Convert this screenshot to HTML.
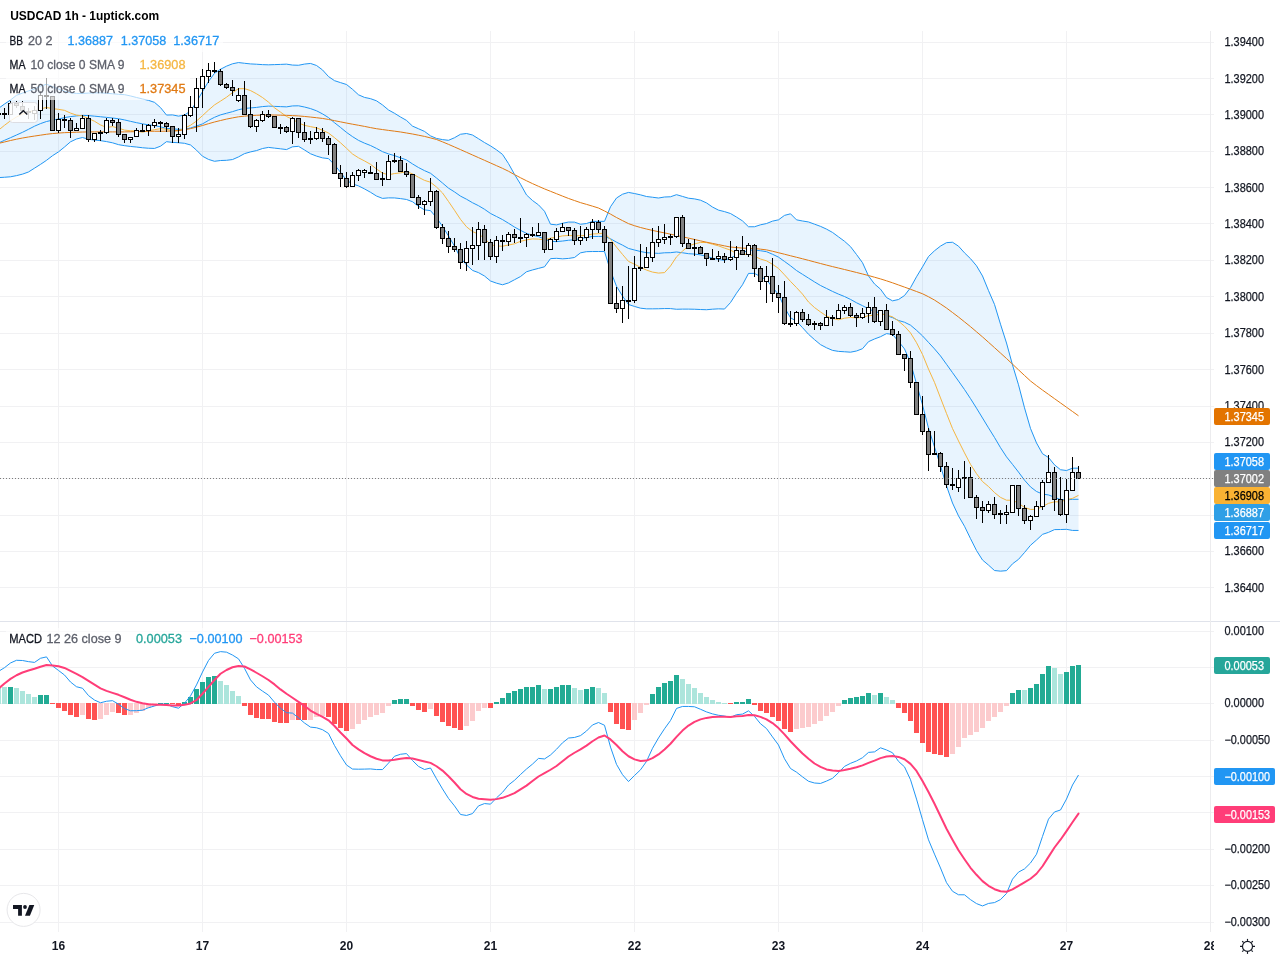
<!DOCTYPE html>
<html><head><meta charset="utf-8"><title>USDCAD 1h</title>
<style>html,body{margin:0;padding:0;background:#fff;width:1280px;height:960px;overflow:hidden}svg{display:block;will-change:transform}text{font-family:"Liberation Sans", sans-serif}</style>
</head><body>
<svg width="1280" height="960" viewBox="0 0 1280 960" font-family='"Liberation Sans", sans-serif'>
<rect width="1280" height="960" fill="#fff"/>
<g shape-rendering="crispEdges" stroke-width="1">
<line x1="58.5" y1="31" x2="58.5" y2="621.0" stroke="#f1f1f3"/>
<line x1="58.5" y1="622.0" x2="58.5" y2="931.5" stroke="#f1f1f3"/>
<line x1="202.5" y1="31" x2="202.5" y2="621.0" stroke="#f1f1f3"/>
<line x1="202.5" y1="622.0" x2="202.5" y2="931.5" stroke="#f1f1f3"/>
<line x1="346.5" y1="31" x2="346.5" y2="621.0" stroke="#f1f1f3"/>
<line x1="346.5" y1="622.0" x2="346.5" y2="931.5" stroke="#f1f1f3"/>
<line x1="490.5" y1="31" x2="490.5" y2="621.0" stroke="#f1f1f3"/>
<line x1="490.5" y1="622.0" x2="490.5" y2="931.5" stroke="#f1f1f3"/>
<line x1="634.5" y1="31" x2="634.5" y2="621.0" stroke="#f1f1f3"/>
<line x1="634.5" y1="622.0" x2="634.5" y2="931.5" stroke="#f1f1f3"/>
<line x1="778.5" y1="31" x2="778.5" y2="621.0" stroke="#f1f1f3"/>
<line x1="778.5" y1="622.0" x2="778.5" y2="931.5" stroke="#f1f1f3"/>
<line x1="922.5" y1="31" x2="922.5" y2="621.0" stroke="#f1f1f3"/>
<line x1="922.5" y1="622.0" x2="922.5" y2="931.5" stroke="#f1f1f3"/>
<line x1="1066.5" y1="31" x2="1066.5" y2="621.0" stroke="#f1f1f3"/>
<line x1="1066.5" y1="622.0" x2="1066.5" y2="931.5" stroke="#f1f1f3"/>
<line x1="1210.5" y1="31" x2="1210.5" y2="621.0" stroke="#f1f1f3"/>
<line x1="1210.5" y1="622.0" x2="1210.5" y2="931.5" stroke="#f1f1f3"/>
<line x1="0" y1="42.5" x2="1214.0" y2="42.5" stroke="#f1f1f3"/>
<line x1="0" y1="78.5" x2="1214.0" y2="78.5" stroke="#f1f1f3"/>
<line x1="0" y1="114.5" x2="1214.0" y2="114.5" stroke="#f1f1f3"/>
<line x1="0" y1="151.5" x2="1214.0" y2="151.5" stroke="#f1f1f3"/>
<line x1="0" y1="187.5" x2="1214.0" y2="187.5" stroke="#f1f1f3"/>
<line x1="0" y1="223.5" x2="1214.0" y2="223.5" stroke="#f1f1f3"/>
<line x1="0" y1="260.5" x2="1214.0" y2="260.5" stroke="#f1f1f3"/>
<line x1="0" y1="296.5" x2="1214.0" y2="296.5" stroke="#f1f1f3"/>
<line x1="0" y1="333.5" x2="1214.0" y2="333.5" stroke="#f1f1f3"/>
<line x1="0" y1="369.5" x2="1214.0" y2="369.5" stroke="#f1f1f3"/>
<line x1="0" y1="406.5" x2="1214.0" y2="406.5" stroke="#f1f1f3"/>
<line x1="0" y1="442.5" x2="1214.0" y2="442.5" stroke="#f1f1f3"/>
<line x1="0" y1="478.5" x2="1214.0" y2="478.5" stroke="#f1f1f3"/>
<line x1="0" y1="515.5" x2="1214.0" y2="515.5" stroke="#f1f1f3"/>
<line x1="0" y1="551.5" x2="1214.0" y2="551.5" stroke="#f1f1f3"/>
<line x1="0" y1="587.5" x2="1214.0" y2="587.5" stroke="#f1f1f3"/>
<line x1="0" y1="631.5" x2="1214.0" y2="631.5" stroke="#f1f1f3"/>
<line x1="0" y1="667.5" x2="1214.0" y2="667.5" stroke="#f1f1f3"/>
<line x1="0" y1="703.5" x2="1214.0" y2="703.5" stroke="#f1f1f3"/>
<line x1="0" y1="740.5" x2="1214.0" y2="740.5" stroke="#f1f1f3"/>
<line x1="0" y1="776.5" x2="1214.0" y2="776.5" stroke="#f1f1f3"/>
<line x1="0" y1="812.5" x2="1214.0" y2="812.5" stroke="#f1f1f3"/>
<line x1="0" y1="849.5" x2="1214.0" y2="849.5" stroke="#f1f1f3"/>
<line x1="0" y1="885.5" x2="1214.0" y2="885.5" stroke="#f1f1f3"/>
<line x1="0" y1="922.5" x2="1214.0" y2="922.5" stroke="#f1f1f3"/>
</g>
<clipPath id="cm"><rect x="0" y="31" width="1210.0" height="590.5"/></clipPath>
<clipPath id="cd"><rect x="0" y="621.5" width="1210.0" height="310.0"/></clipPath>
<g clip-path="url(#cm)">
<path d="M-1.5,108.40 L4.5,104.00 L10.5,100.00 L16.5,95.30 L22.5,93.10 L28.5,90.90 L34.5,89.00 L40.5,86.25 L46.5,84.20 L52.5,86.60 L58.5,89.00 L64.5,91.25 L70.5,92.80 L76.5,93.40 L82.5,93.43 L88.5,93.07 L94.5,92.90 L100.5,92.79 L106.5,93.27 L112.5,93.75 L118.5,94.29 L124.5,94.67 L130.5,95.95 L136.5,97.47 L142.5,98.95 L148.5,100.36 L154.5,102.35 L160.5,107.58 L166.5,115.05 L172.5,114.90 L178.5,116.11 L184.5,115.07 L190.5,111.06 L196.5,101.86 L202.5,91.59 L208.5,81.43 L214.5,73.30 L220.5,69.26 L226.5,66.17 L232.5,63.79 L238.5,62.55 L244.5,63.28 L250.5,63.91 L256.5,64.23 L262.5,64.63 L268.5,64.82 L274.5,64.61 L280.5,64.42 L286.5,64.15 L292.5,65.07 L298.5,65.28 L304.5,64.07 L310.5,63.44 L316.5,65.48 L322.5,69.93 L328.5,76.57 L334.5,80.67 L340.5,82.61 L346.5,84.51 L352.5,89.30 L358.5,94.81 L364.5,97.41 L370.5,98.66 L376.5,100.82 L382.5,104.94 L388.5,109.97 L394.5,113.29 L400.5,117.01 L406.5,120.42 L412.5,126.12 L418.5,128.75 L424.5,131.42 L430.5,135.89 L436.5,138.43 L442.5,139.61 L448.5,140.30 L454.5,137.72 L460.5,134.25 L466.5,133.49 L472.5,135.03 L478.5,138.73 L484.5,142.54 L490.5,145.91 L496.5,149.85 L502.5,154.39 L508.5,163.58 L514.5,174.39 L520.5,184.15 L526.5,194.94 L532.5,200.52 L538.5,204.88 L544.5,211.26 L550.5,224.21 L556.5,224.88 L562.5,223.27 L568.5,222.07 L574.5,222.11 L580.5,224.25 L586.5,223.53 L592.5,221.36 L598.5,221.33 L604.5,221.33 L610.5,206.76 L616.5,198.01 L622.5,194.22 L628.5,192.41 L634.5,193.54 L640.5,194.85 L646.5,196.51 L652.5,197.24 L658.5,198.02 L664.5,197.01 L670.5,196.77 L676.5,194.68 L682.5,196.43 L688.5,198.23 L694.5,198.88 L700.5,200.20 L706.5,202.91 L712.5,207.06 L718.5,210.13 L724.5,211.62 L730.5,213.52 L736.5,217.07 L742.5,220.92 L748.5,226.75 L754.5,226.75 L760.5,224.81 L766.5,223.54 L772.5,221.14 L778.5,219.83 L784.5,215.39 L790.5,213.82 L796.5,219.83 L802.5,220.99 L808.5,221.96 L814.5,224.17 L820.5,226.37 L826.5,229.11 L832.5,232.43 L838.5,236.85 L844.5,241.28 L850.5,246.64 L856.5,254.50 L862.5,262.71 L868.5,275.97 L874.5,283.97 L880.5,289.15 L886.5,297.52 L892.5,300.84 L898.5,299.52 L904.5,295.52 L910.5,287.69 L916.5,276.81 L922.5,266.89 L928.5,256.51 L934.5,250.78 L940.5,246.08 L946.5,242.65 L952.5,242.26 L958.5,246.17 L964.5,252.85 L970.5,258.67 L976.5,265.79 L982.5,275.96 L988.5,290.59 L994.5,304.44 L1000.5,324.21 L1006.5,343.03 L1012.5,364.95 L1018.5,384.80 L1024.5,407.81 L1030.5,428.46 L1036.5,442.96 L1042.5,453.72 L1048.5,457.52 L1054.5,464.83 L1060.5,469.73 L1066.5,470.53 L1072.5,468.18 L1078.5,468.16 L1078.5,530.44 L1072.5,530.43 L1066.5,529.33 L1060.5,529.53 L1054.5,529.60 L1048.5,532.37 L1042.5,534.36 L1036.5,540.02 L1030.5,545.31 L1024.5,552.54 L1018.5,559.37 L1012.5,563.82 L1006.5,570.64 L1000.5,571.15 L994.5,570.53 L988.5,565.09 L982.5,560.03 L976.5,550.52 L970.5,538.60 L964.5,526.25 L958.5,515.91 L952.5,503.03 L946.5,485.93 L940.5,465.80 L934.5,447.00 L928.5,428.25 L922.5,404.87 L916.5,383.74 L910.5,362.64 L904.5,348.91 L898.5,341.42 L892.5,334.42 L886.5,333.64 L880.5,336.71 L874.5,338.97 L868.5,341.66 L862.5,348.69 L856.5,350.99 L850.5,352.20 L844.5,351.76 L838.5,351.38 L832.5,350.39 L826.5,347.77 L820.5,344.61 L814.5,339.63 L808.5,334.27 L802.5,327.64 L796.5,321.21 L790.5,317.72 L784.5,307.52 L778.5,294.47 L772.5,287.36 L766.5,279.84 L760.5,276.67 L754.5,273.40 L748.5,273.40 L742.5,284.77 L736.5,293.22 L730.5,302.56 L724.5,309.06 L718.5,308.84 L712.5,309.20 L706.5,309.72 L700.5,309.52 L694.5,309.24 L688.5,309.12 L682.5,309.12 L676.5,309.27 L670.5,308.58 L664.5,308.57 L658.5,308.75 L652.5,308.84 L646.5,308.84 L640.5,308.19 L634.5,306.45 L628.5,304.50 L622.5,296.06 L616.5,286.34 L610.5,270.79 L604.5,251.53 L598.5,251.53 L592.5,251.52 L586.5,251.66 L580.5,252.85 L574.5,257.49 L568.5,258.43 L562.5,258.84 L556.5,258.32 L550.5,258.64 L544.5,266.80 L538.5,268.39 L532.5,269.94 L526.5,271.77 L520.5,276.56 L514.5,279.72 L508.5,282.91 L502.5,284.78 L496.5,283.16 L490.5,281.00 L484.5,276.00 L478.5,272.64 L472.5,270.42 L466.5,264.94 L460.5,257.99 L454.5,246.13 L448.5,235.96 L442.5,226.43 L436.5,217.62 L430.5,210.64 L424.5,209.86 L418.5,206.32 L412.5,201.73 L406.5,199.48 L400.5,198.60 L394.5,197.93 L388.5,197.87 L382.5,198.40 L376.5,196.02 L370.5,192.28 L364.5,188.91 L358.5,185.90 L352.5,183.93 L346.5,180.26 L340.5,172.25 L334.5,164.78 L328.5,158.63 L322.5,157.86 L316.5,156.10 L310.5,153.75 L304.5,149.96 L298.5,146.34 L292.5,146.80 L286.5,149.57 L280.5,148.80 L274.5,148.11 L268.5,147.40 L262.5,148.53 L256.5,150.58 L250.5,151.90 L244.5,153.63 L238.5,156.90 L232.5,159.55 L226.5,160.30 L220.5,160.53 L214.5,161.29 L208.5,159.41 L202.5,156.23 L196.5,150.16 L190.5,144.96 L184.5,143.30 L178.5,142.73 L172.5,142.41 L166.5,141.67 L160.5,146.19 L154.5,148.45 L148.5,148.24 L142.5,147.76 L136.5,147.03 L130.5,146.44 L124.5,145.66 L118.5,144.65 L112.5,142.80 L106.5,141.59 L100.5,140.65 L94.5,140.07 L88.5,139.28 L82.5,137.51 L76.5,138.98 L70.5,141.80 L64.5,146.99 L58.5,151.87 L52.5,155.71 L46.5,160.34 L40.5,164.39 L34.5,168.16 L28.5,171.97 L22.5,174.13 L16.5,175.63 L10.5,176.79 L4.5,177.26 L-1.5,177.62Z" fill="#2196f3" fill-opacity="0.1"/>
<path d="M-1.5,143.02 L4.5,140.30 L10.5,137.70 L16.5,135.00 L22.5,132.30 L28.5,129.30 L34.5,126.20 L40.5,123.60 L46.5,121.50 L52.5,120.20 L58.5,119.00 L64.5,117.60 L70.5,116.60 L76.5,115.90 L82.5,115.40 L88.5,115.60 L94.5,116.17 L100.5,116.75 L106.5,117.36 L112.5,118.00 L118.5,118.75 L124.5,119.91 L130.5,121.33 L136.5,122.66 L142.5,123.86 L148.5,124.80 L154.5,125.57 L160.5,126.85 L166.5,128.36 L172.5,128.66 L178.5,129.42 L184.5,129.19 L190.5,128.01 L196.5,126.01 L202.5,123.91 L208.5,120.42 L214.5,117.30 L220.5,114.89 L226.5,113.24 L232.5,111.67 L238.5,109.73 L244.5,108.46 L250.5,107.91 L256.5,107.41 L262.5,106.58 L268.5,106.11 L274.5,106.36 L280.5,106.61 L286.5,106.86 L292.5,105.93 L298.5,105.81 L304.5,107.02 L310.5,108.59 L316.5,110.79 L322.5,113.89 L328.5,117.60 L334.5,122.72 L340.5,127.43 L346.5,132.38 L352.5,136.62 L358.5,140.36 L364.5,143.16 L370.5,145.47 L376.5,148.42 L382.5,151.67 L388.5,153.92 L394.5,155.61 L400.5,157.81 L406.5,159.95 L412.5,163.93 L418.5,167.54 L424.5,170.64 L430.5,173.27 L436.5,178.03 L442.5,183.02 L448.5,188.13 L454.5,191.92 L460.5,196.12 L466.5,199.22 L472.5,202.72 L478.5,205.69 L484.5,209.27 L490.5,213.46 L496.5,216.50 L502.5,219.58 L508.5,223.24 L514.5,227.05 L520.5,230.35 L526.5,233.36 L532.5,235.23 L538.5,236.63 L544.5,239.03 L550.5,241.42 L556.5,241.60 L562.5,241.05 L568.5,240.25 L574.5,239.80 L580.5,238.55 L586.5,237.59 L592.5,236.44 L598.5,236.43 L604.5,236.43 L610.5,238.78 L616.5,242.17 L622.5,245.14 L628.5,248.45 L634.5,250.00 L640.5,251.52 L646.5,252.68 L652.5,253.04 L658.5,253.38 L664.5,252.79 L670.5,252.68 L676.5,251.97 L682.5,252.78 L688.5,253.68 L694.5,254.06 L700.5,254.86 L706.5,256.31 L712.5,258.13 L718.5,259.48 L724.5,260.34 L730.5,258.04 L736.5,255.14 L742.5,252.84 L748.5,250.08 L754.5,250.08 L760.5,250.74 L766.5,251.69 L772.5,254.25 L778.5,257.15 L784.5,261.45 L790.5,265.77 L796.5,270.52 L802.5,274.32 L808.5,278.12 L814.5,281.90 L820.5,285.49 L826.5,288.44 L832.5,291.41 L838.5,294.11 L844.5,296.52 L850.5,299.42 L856.5,302.75 L862.5,305.70 L868.5,308.82 L874.5,311.47 L880.5,312.93 L886.5,315.58 L892.5,317.63 L898.5,320.47 L904.5,322.22 L910.5,325.17 L916.5,330.27 L922.5,335.88 L928.5,342.38 L934.5,348.89 L940.5,355.94 L946.5,364.29 L952.5,372.64 L958.5,381.04 L964.5,389.55 L970.5,398.64 L976.5,408.16 L982.5,417.99 L988.5,427.84 L994.5,437.48 L1000.5,447.68 L1006.5,456.83 L1012.5,464.38 L1018.5,472.08 L1024.5,480.18 L1030.5,486.88 L1036.5,491.49 L1042.5,494.04 L1048.5,494.94 L1054.5,497.21 L1060.5,499.63 L1066.5,499.93 L1072.5,499.31 L1078.5,499.30" fill="none" stroke="#2196f3" stroke-width="1" stroke-linejoin="round"/>
<path d="M-1.5,108.40 L4.5,104.00 L10.5,100.00 L16.5,95.30 L22.5,93.10 L28.5,90.90 L34.5,89.00 L40.5,86.25 L46.5,84.20 L52.5,86.60 L58.5,89.00 L64.5,91.25 L70.5,92.80 L76.5,93.40 L82.5,93.43 L88.5,93.07 L94.5,92.90 L100.5,92.79 L106.5,93.27 L112.5,93.75 L118.5,94.29 L124.5,94.67 L130.5,95.95 L136.5,97.47 L142.5,98.95 L148.5,100.36 L154.5,102.35 L160.5,107.58 L166.5,115.05 L172.5,114.90 L178.5,116.11 L184.5,115.07 L190.5,111.06 L196.5,101.86 L202.5,91.59 L208.5,81.43 L214.5,73.30 L220.5,69.26 L226.5,66.17 L232.5,63.79 L238.5,62.55 L244.5,63.28 L250.5,63.91 L256.5,64.23 L262.5,64.63 L268.5,64.82 L274.5,64.61 L280.5,64.42 L286.5,64.15 L292.5,65.07 L298.5,65.28 L304.5,64.07 L310.5,63.44 L316.5,65.48 L322.5,69.93 L328.5,76.57 L334.5,80.67 L340.5,82.61 L346.5,84.51 L352.5,89.30 L358.5,94.81 L364.5,97.41 L370.5,98.66 L376.5,100.82 L382.5,104.94 L388.5,109.97 L394.5,113.29 L400.5,117.01 L406.5,120.42 L412.5,126.12 L418.5,128.75 L424.5,131.42 L430.5,135.89 L436.5,138.43 L442.5,139.61 L448.5,140.30 L454.5,137.72 L460.5,134.25 L466.5,133.49 L472.5,135.03 L478.5,138.73 L484.5,142.54 L490.5,145.91 L496.5,149.85 L502.5,154.39 L508.5,163.58 L514.5,174.39 L520.5,184.15 L526.5,194.94 L532.5,200.52 L538.5,204.88 L544.5,211.26 L550.5,224.21 L556.5,224.88 L562.5,223.27 L568.5,222.07 L574.5,222.11 L580.5,224.25 L586.5,223.53 L592.5,221.36 L598.5,221.33 L604.5,221.33 L610.5,206.76 L616.5,198.01 L622.5,194.22 L628.5,192.41 L634.5,193.54 L640.5,194.85 L646.5,196.51 L652.5,197.24 L658.5,198.02 L664.5,197.01 L670.5,196.77 L676.5,194.68 L682.5,196.43 L688.5,198.23 L694.5,198.88 L700.5,200.20 L706.5,202.91 L712.5,207.06 L718.5,210.13 L724.5,211.62 L730.5,213.52 L736.5,217.07 L742.5,220.92 L748.5,226.75 L754.5,226.75 L760.5,224.81 L766.5,223.54 L772.5,221.14 L778.5,219.83 L784.5,215.39 L790.5,213.82 L796.5,219.83 L802.5,220.99 L808.5,221.96 L814.5,224.17 L820.5,226.37 L826.5,229.11 L832.5,232.43 L838.5,236.85 L844.5,241.28 L850.5,246.64 L856.5,254.50 L862.5,262.71 L868.5,275.97 L874.5,283.97 L880.5,289.15 L886.5,297.52 L892.5,300.84 L898.5,299.52 L904.5,295.52 L910.5,287.69 L916.5,276.81 L922.5,266.89 L928.5,256.51 L934.5,250.78 L940.5,246.08 L946.5,242.65 L952.5,242.26 L958.5,246.17 L964.5,252.85 L970.5,258.67 L976.5,265.79 L982.5,275.96 L988.5,290.59 L994.5,304.44 L1000.5,324.21 L1006.5,343.03 L1012.5,364.95 L1018.5,384.80 L1024.5,407.81 L1030.5,428.46 L1036.5,442.96 L1042.5,453.72 L1048.5,457.52 L1054.5,464.83 L1060.5,469.73 L1066.5,470.53 L1072.5,468.18 L1078.5,468.16" fill="none" stroke="#2196f3" stroke-width="1" stroke-linejoin="round"/>
<path d="M-1.5,177.62 L4.5,177.26 L10.5,176.79 L16.5,175.63 L22.5,174.13 L28.5,171.97 L34.5,168.16 L40.5,164.39 L46.5,160.34 L52.5,155.71 L58.5,151.87 L64.5,146.99 L70.5,141.80 L76.5,138.98 L82.5,137.51 L88.5,139.28 L94.5,140.07 L100.5,140.65 L106.5,141.59 L112.5,142.80 L118.5,144.65 L124.5,145.66 L130.5,146.44 L136.5,147.03 L142.5,147.76 L148.5,148.24 L154.5,148.45 L160.5,146.19 L166.5,141.67 L172.5,142.41 L178.5,142.73 L184.5,143.30 L190.5,144.96 L196.5,150.16 L202.5,156.23 L208.5,159.41 L214.5,161.29 L220.5,160.53 L226.5,160.30 L232.5,159.55 L238.5,156.90 L244.5,153.63 L250.5,151.90 L256.5,150.58 L262.5,148.53 L268.5,147.40 L274.5,148.11 L280.5,148.80 L286.5,149.57 L292.5,146.80 L298.5,146.34 L304.5,149.96 L310.5,153.75 L316.5,156.10 L322.5,157.86 L328.5,158.63 L334.5,164.78 L340.5,172.25 L346.5,180.26 L352.5,183.93 L358.5,185.90 L364.5,188.91 L370.5,192.28 L376.5,196.02 L382.5,198.40 L388.5,197.87 L394.5,197.93 L400.5,198.60 L406.5,199.48 L412.5,201.73 L418.5,206.32 L424.5,209.86 L430.5,210.64 L436.5,217.62 L442.5,226.43 L448.5,235.96 L454.5,246.13 L460.5,257.99 L466.5,264.94 L472.5,270.42 L478.5,272.64 L484.5,276.00 L490.5,281.00 L496.5,283.16 L502.5,284.78 L508.5,282.91 L514.5,279.72 L520.5,276.56 L526.5,271.77 L532.5,269.94 L538.5,268.39 L544.5,266.80 L550.5,258.64 L556.5,258.32 L562.5,258.84 L568.5,258.43 L574.5,257.49 L580.5,252.85 L586.5,251.66 L592.5,251.52 L598.5,251.53 L604.5,251.53 L610.5,270.79 L616.5,286.34 L622.5,296.06 L628.5,304.50 L634.5,306.45 L640.5,308.19 L646.5,308.84 L652.5,308.84 L658.5,308.75 L664.5,308.57 L670.5,308.58 L676.5,309.27 L682.5,309.12 L688.5,309.12 L694.5,309.24 L700.5,309.52 L706.5,309.72 L712.5,309.20 L718.5,308.84 L724.5,309.06 L730.5,302.56 L736.5,293.22 L742.5,284.77 L748.5,273.40 L754.5,273.40 L760.5,276.67 L766.5,279.84 L772.5,287.36 L778.5,294.47 L784.5,307.52 L790.5,317.72 L796.5,321.21 L802.5,327.64 L808.5,334.27 L814.5,339.63 L820.5,344.61 L826.5,347.77 L832.5,350.39 L838.5,351.38 L844.5,351.76 L850.5,352.20 L856.5,350.99 L862.5,348.69 L868.5,341.66 L874.5,338.97 L880.5,336.71 L886.5,333.64 L892.5,334.42 L898.5,341.42 L904.5,348.91 L910.5,362.64 L916.5,383.74 L922.5,404.87 L928.5,428.25 L934.5,447.00 L940.5,465.80 L946.5,485.93 L952.5,503.03 L958.5,515.91 L964.5,526.25 L970.5,538.60 L976.5,550.52 L982.5,560.03 L988.5,565.09 L994.5,570.53 L1000.5,571.15 L1006.5,570.64 L1012.5,563.82 L1018.5,559.37 L1024.5,552.54 L1030.5,545.31 L1036.5,540.02 L1042.5,534.36 L1048.5,532.37 L1054.5,529.60 L1060.5,529.53 L1066.5,529.33 L1072.5,530.43 L1078.5,530.44" fill="none" stroke="#2196f3" stroke-width="1" stroke-linejoin="round"/>
<path d="M-1.5,130.20 L4.5,125.30 L10.5,120.80 L16.5,117.00 L22.5,114.00 L28.5,112.00 L34.5,110.50 L40.5,108.80 L46.5,107.51 L52.5,108.59 L58.5,109.36 L64.5,110.33 L70.5,113.08 L76.5,115.11 L82.5,115.94 L88.5,118.48 L94.5,121.28 L100.5,124.94 L106.5,127.46 L112.5,126.60 L118.5,128.10 L124.5,130.10 L130.5,130.75 L136.5,130.96 L142.5,132.21 L148.5,130.77 L154.5,129.67 L160.5,128.67 L166.5,129.26 L172.5,130.71 L178.5,130.75 L184.5,128.27 L190.5,125.27 L196.5,121.06 L202.5,115.61 L208.5,110.08 L214.5,104.92 L220.5,101.11 L226.5,97.22 L232.5,92.62 L238.5,88.71 L244.5,88.65 L250.5,90.55 L256.5,93.75 L262.5,97.54 L268.5,102.14 L274.5,107.80 L280.5,112.10 L286.5,116.50 L292.5,119.24 L298.5,122.91 L304.5,125.39 L310.5,126.64 L316.5,127.83 L322.5,130.24 L328.5,133.06 L334.5,137.66 L340.5,142.75 L346.5,148.26 L352.5,153.99 L358.5,157.81 L364.5,160.93 L370.5,164.30 L376.5,169.01 L382.5,173.10 L388.5,174.79 L394.5,173.56 L400.5,172.86 L406.5,171.64 L412.5,173.87 L418.5,177.27 L424.5,180.36 L430.5,182.23 L436.5,187.04 L442.5,192.94 L448.5,201.47 L454.5,210.28 L460.5,219.38 L466.5,226.79 L472.5,231.58 L478.5,234.10 L484.5,238.18 L490.5,244.68 L496.5,245.97 L502.5,246.22 L508.5,245.02 L514.5,243.82 L520.5,241.32 L526.5,239.92 L532.5,238.88 L538.5,239.17 L544.5,239.88 L550.5,238.17 L556.5,237.23 L562.5,235.88 L568.5,235.48 L574.5,235.78 L580.5,235.78 L586.5,235.28 L592.5,234.00 L598.5,233.69 L604.5,232.97 L610.5,239.38 L616.5,247.11 L622.5,254.40 L628.5,261.42 L634.5,264.22 L640.5,267.27 L646.5,270.08 L652.5,272.08 L658.5,273.08 L664.5,272.61 L670.5,265.97 L676.5,256.84 L682.5,251.15 L688.5,245.93 L694.5,243.90 L700.5,242.45 L706.5,242.55 L712.5,244.18 L718.5,245.88 L724.5,248.07 L730.5,250.12 L736.5,253.45 L742.5,254.54 L748.5,254.22 L754.5,256.25 L760.5,259.03 L766.5,260.83 L772.5,264.32 L778.5,268.42 L784.5,274.83 L790.5,281.43 L796.5,287.59 L802.5,294.10 L808.5,302.01 L814.5,307.55 L820.5,311.94 L826.5,316.04 L832.5,318.50 L838.5,319.81 L844.5,318.20 L850.5,317.42 L856.5,317.90 L862.5,317.31 L868.5,315.62 L874.5,315.39 L880.5,313.92 L886.5,315.11 L892.5,316.76 L898.5,321.14 L904.5,326.23 L910.5,332.92 L916.5,342.65 L922.5,354.45 L928.5,369.14 L934.5,382.39 L940.5,397.96 L946.5,413.46 L952.5,428.52 L958.5,440.94 L964.5,452.86 L970.5,464.35 L976.5,473.66 L982.5,481.54 L988.5,486.54 L994.5,492.58 L1000.5,497.39 L1006.5,500.20 L1012.5,500.24 L1018.5,503.23 L1024.5,507.49 L1030.5,509.41 L1036.5,509.31 L1042.5,506.54 L1048.5,503.34 L1054.5,501.84 L1060.5,501.87 L1066.5,499.66 L1072.5,498.36 L1078.5,495.36" fill="none" stroke="#f5b642" stroke-width="1" stroke-linejoin="round"/>
<path d="M-1.5,143.40 L4.5,141.98 L10.5,140.50 L16.5,139.20 L22.5,138.00 L28.5,136.97 L34.5,136.06 L40.5,135.16 L46.5,134.27 L52.5,133.55 L58.5,133.07 L64.5,132.67 L70.5,132.43 L76.5,132.21 L82.5,132.04 L88.5,131.90 L94.5,131.90 L100.5,131.90 L106.5,131.90 L112.5,131.90 L118.5,131.90 L124.5,131.90 L130.5,131.77 L136.5,131.62 L142.5,131.46 L148.5,131.29 L154.5,131.25 L160.5,131.25 L166.5,131.17 L172.5,131.05 L178.5,130.55 L184.5,129.78 L190.5,128.64 L196.5,127.13 L202.5,125.50 L208.5,123.70 L214.5,122.00 L220.5,120.52 L226.5,119.10 L232.5,117.90 L238.5,116.80 L244.5,116.17 L250.5,115.58 L256.5,115.29 L262.5,115.00 L268.5,115.00 L274.5,115.00 L280.5,115.18 L286.5,115.37 L292.5,115.64 L298.5,115.93 L304.5,116.45 L310.5,117.05 L316.5,117.73 L322.5,118.45 L328.5,119.45 L334.5,120.65 L340.5,121.85 L346.5,123.05 L352.5,124.20 L358.5,125.28 L364.5,126.40 L370.5,127.60 L376.5,128.71 L382.5,129.55 L388.5,130.38 L394.5,131.17 L400.5,131.98 L406.5,132.99 L412.5,134.00 L418.5,135.20 L424.5,136.40 L430.5,137.93 L436.5,139.49 L442.5,141.85 L448.5,144.37 L454.5,146.98 L460.5,149.62 L466.5,152.30 L472.5,154.97 L478.5,157.64 L484.5,160.31 L490.5,162.98 L496.5,165.66 L502.5,168.33 L508.5,171.25 L514.5,174.58 L520.5,177.75 L526.5,180.75 L532.5,183.62 L538.5,186.31 L544.5,188.90 L550.5,191.30 L556.5,193.70 L562.5,196.10 L568.5,198.45 L574.5,200.56 L580.5,202.64 L586.5,204.36 L592.5,206.16 L598.5,208.02 L604.5,210.97 L610.5,214.10 L616.5,217.53 L622.5,220.62 L628.5,223.64 L634.5,225.73 L640.5,227.51 L646.5,229.03 L652.5,230.42 L658.5,231.70 L664.5,232.90 L670.5,234.16 L676.5,235.48 L682.5,236.80 L688.5,238.12 L694.5,239.46 L700.5,240.86 L706.5,242.20 L712.5,243.40 L718.5,244.61 L724.5,245.86 L730.5,247.04 L736.5,247.57 L742.5,248.10 L748.5,248.29 L754.5,248.48 L760.5,249.16 L766.5,249.88 L772.5,251.24 L778.5,252.73 L784.5,254.23 L790.5,255.75 L796.5,257.26 L802.5,258.77 L808.5,260.34 L814.5,261.95 L820.5,263.53 L826.5,265.09 L832.5,266.60 L838.5,268.04 L844.5,269.50 L850.5,270.98 L856.5,272.48 L862.5,273.99 L868.5,275.53 L874.5,277.21 L880.5,278.91 L886.5,280.80 L892.5,282.80 L898.5,284.96 L904.5,287.12 L910.5,289.28 L916.5,291.50 L922.5,293.75 L928.5,296.75 L934.5,300.05 L940.5,303.97 L946.5,308.02 L952.5,312.51 L958.5,317.05 L964.5,321.85 L970.5,326.68 L976.5,331.79 L982.5,336.90 L988.5,342.28 L994.5,347.65 L1000.5,353.07 L1006.5,358.50 L1012.5,364.14 L1018.5,369.83 L1024.5,375.46 L1030.5,380.99 L1036.5,385.61 L1042.5,390.09 L1048.5,394.37 L1054.5,398.66 L1060.5,402.94 L1066.5,407.23 L1072.5,411.51 L1078.5,415.80" fill="none" stroke="#e07a14" stroke-width="1" stroke-linejoin="round"/>
<g shape-rendering="crispEdges">
<rect x="-2" y="112" width="1" height="4" fill="#000"/>
<rect x="-4" y="113" width="5" height="2" fill="#000"/>
<rect x="4" y="108" width="1" height="11" fill="#000"/>
<rect x="2" y="113" width="5" height="2" fill="#000"/>
<rect x="10" y="101" width="1" height="13" fill="#000"/>
<rect x="8" y="103" width="5" height="12" fill="#000"/>
<rect x="9" y="104" width="3" height="10" fill="#fff"/>
<rect x="16" y="101" width="1" height="7" fill="#000"/>
<rect x="14" y="103" width="5" height="3" fill="#000"/>
<rect x="15" y="104" width="3" height="1" fill="#808080"/>
<rect x="22" y="101" width="1" height="12" fill="#000"/>
<rect x="20" y="106" width="5" height="5" fill="#000"/>
<rect x="21" y="107" width="3" height="3" fill="#808080"/>
<rect x="28" y="108" width="1" height="11" fill="#000"/>
<rect x="26" y="111" width="5" height="2" fill="#000"/>
<rect x="34" y="106" width="1" height="14" fill="#000"/>
<rect x="32" y="110" width="5" height="4" fill="#000"/>
<rect x="33" y="111" width="3" height="2" fill="#fff"/>
<rect x="40" y="91" width="1" height="28" fill="#000"/>
<rect x="38" y="95" width="5" height="16" fill="#000"/>
<rect x="39" y="96" width="3" height="14" fill="#fff"/>
<rect x="46" y="78" width="1" height="31" fill="#000"/>
<rect x="44" y="95" width="5" height="2" fill="#000"/>
<rect x="52" y="96" width="1" height="35" fill="#000"/>
<rect x="50" y="96" width="5" height="35" fill="#000"/>
<rect x="51" y="97" width="3" height="33" fill="#808080"/>
<rect x="58" y="113" width="1" height="20" fill="#000"/>
<rect x="56" y="119" width="5" height="12" fill="#000"/>
<rect x="57" y="120" width="3" height="10" fill="#fff"/>
<rect x="64" y="115" width="1" height="13" fill="#000"/>
<rect x="62" y="119" width="5" height="2" fill="#000"/>
<rect x="70" y="118" width="1" height="20" fill="#000"/>
<rect x="68" y="120" width="5" height="11" fill="#000"/>
<rect x="69" y="121" width="3" height="9" fill="#808080"/>
<rect x="76" y="123" width="1" height="8" fill="#000"/>
<rect x="74" y="128" width="5" height="3" fill="#000"/>
<rect x="75" y="129" width="3" height="1" fill="#fff"/>
<rect x="82" y="115" width="1" height="14" fill="#000"/>
<rect x="80" y="118" width="5" height="11" fill="#000"/>
<rect x="81" y="119" width="3" height="9" fill="#fff"/>
<rect x="88" y="115" width="1" height="27" fill="#000"/>
<rect x="86" y="118" width="5" height="22" fill="#000"/>
<rect x="87" y="119" width="3" height="20" fill="#808080"/>
<rect x="94" y="133" width="1" height="9" fill="#000"/>
<rect x="92" y="133" width="5" height="7" fill="#000"/>
<rect x="93" y="134" width="3" height="5" fill="#fff"/>
<rect x="100" y="130" width="1" height="11" fill="#000"/>
<rect x="98" y="132" width="5" height="2" fill="#000"/>
<rect x="106" y="118" width="1" height="16" fill="#000"/>
<rect x="104" y="120" width="5" height="13" fill="#000"/>
<rect x="105" y="121" width="3" height="11" fill="#fff"/>
<rect x="112" y="118" width="1" height="8" fill="#000"/>
<rect x="110" y="120" width="5" height="3" fill="#000"/>
<rect x="111" y="121" width="3" height="1" fill="#808080"/>
<rect x="118" y="119" width="1" height="18" fill="#000"/>
<rect x="116" y="122" width="5" height="13" fill="#000"/>
<rect x="117" y="123" width="3" height="11" fill="#808080"/>
<rect x="124" y="134" width="1" height="9" fill="#000"/>
<rect x="122" y="134" width="5" height="6" fill="#000"/>
<rect x="123" y="135" width="3" height="4" fill="#808080"/>
<rect x="130" y="138" width="1" height="5" fill="#000"/>
<rect x="128" y="137" width="5" height="3" fill="#000"/>
<rect x="129" y="138" width="3" height="1" fill="#fff"/>
<rect x="136" y="128" width="1" height="9" fill="#000"/>
<rect x="134" y="130" width="5" height="7" fill="#000"/>
<rect x="135" y="131" width="3" height="5" fill="#fff"/>
<rect x="142" y="124" width="1" height="8" fill="#000"/>
<rect x="140" y="130" width="5" height="2" fill="#000"/>
<rect x="148" y="124" width="1" height="12" fill="#000"/>
<rect x="146" y="125" width="5" height="6" fill="#000"/>
<rect x="147" y="126" width="3" height="4" fill="#fff"/>
<rect x="154" y="119" width="1" height="9" fill="#000"/>
<rect x="152" y="122" width="5" height="4" fill="#000"/>
<rect x="153" y="123" width="3" height="2" fill="#fff"/>
<rect x="160" y="121" width="1" height="11" fill="#000"/>
<rect x="158" y="122" width="5" height="2" fill="#000"/>
<rect x="166" y="122" width="1" height="10" fill="#000"/>
<rect x="164" y="123" width="5" height="4" fill="#000"/>
<rect x="165" y="124" width="3" height="2" fill="#808080"/>
<rect x="172" y="127" width="1" height="16" fill="#000"/>
<rect x="170" y="126" width="5" height="11" fill="#000"/>
<rect x="171" y="127" width="3" height="9" fill="#808080"/>
<rect x="178" y="128" width="1" height="15" fill="#000"/>
<rect x="176" y="134" width="5" height="3" fill="#000"/>
<rect x="177" y="135" width="3" height="1" fill="#fff"/>
<rect x="184" y="114" width="1" height="25" fill="#000"/>
<rect x="182" y="115" width="5" height="20" fill="#000"/>
<rect x="183" y="116" width="3" height="18" fill="#fff"/>
<rect x="190" y="96" width="1" height="21" fill="#000"/>
<rect x="188" y="107" width="5" height="9" fill="#000"/>
<rect x="189" y="108" width="3" height="7" fill="#fff"/>
<rect x="196" y="78" width="1" height="54" fill="#000"/>
<rect x="194" y="88" width="5" height="20" fill="#000"/>
<rect x="195" y="89" width="3" height="18" fill="#fff"/>
<rect x="202" y="69" width="1" height="39" fill="#000"/>
<rect x="200" y="76" width="5" height="13" fill="#000"/>
<rect x="201" y="77" width="3" height="11" fill="#fff"/>
<rect x="208" y="63" width="1" height="20" fill="#000"/>
<rect x="206" y="70" width="5" height="7" fill="#000"/>
<rect x="207" y="71" width="3" height="5" fill="#fff"/>
<rect x="214" y="62" width="1" height="11" fill="#000"/>
<rect x="212" y="70" width="5" height="2" fill="#000"/>
<rect x="220" y="69" width="1" height="17" fill="#000"/>
<rect x="218" y="71" width="5" height="14" fill="#000"/>
<rect x="219" y="72" width="3" height="12" fill="#808080"/>
<rect x="226" y="83" width="1" height="6" fill="#000"/>
<rect x="224" y="84" width="5" height="4" fill="#000"/>
<rect x="225" y="85" width="3" height="2" fill="#808080"/>
<rect x="232" y="80" width="1" height="16" fill="#000"/>
<rect x="230" y="87" width="5" height="4" fill="#000"/>
<rect x="231" y="88" width="3" height="2" fill="#808080"/>
<rect x="238" y="88" width="1" height="14" fill="#000"/>
<rect x="236" y="95" width="5" height="6" fill="#000"/>
<rect x="237" y="96" width="3" height="4" fill="#fff"/>
<rect x="244" y="81" width="1" height="34" fill="#000"/>
<rect x="242" y="95" width="5" height="20" fill="#000"/>
<rect x="243" y="96" width="3" height="18" fill="#808080"/>
<rect x="250" y="100" width="1" height="28" fill="#000"/>
<rect x="248" y="114" width="5" height="13" fill="#000"/>
<rect x="249" y="115" width="3" height="11" fill="#808080"/>
<rect x="256" y="119" width="1" height="13" fill="#000"/>
<rect x="254" y="120" width="5" height="7" fill="#000"/>
<rect x="255" y="121" width="3" height="5" fill="#fff"/>
<rect x="262" y="111" width="1" height="11" fill="#000"/>
<rect x="260" y="114" width="5" height="7" fill="#000"/>
<rect x="261" y="115" width="3" height="5" fill="#fff"/>
<rect x="268" y="110" width="1" height="8" fill="#000"/>
<rect x="266" y="114" width="5" height="3" fill="#000"/>
<rect x="267" y="115" width="3" height="1" fill="#808080"/>
<rect x="274" y="116" width="1" height="12" fill="#000"/>
<rect x="272" y="116" width="5" height="12" fill="#000"/>
<rect x="273" y="117" width="3" height="10" fill="#808080"/>
<rect x="280" y="124" width="1" height="10" fill="#000"/>
<rect x="278" y="127" width="5" height="2" fill="#000"/>
<rect x="286" y="126" width="1" height="7" fill="#000"/>
<rect x="284" y="127" width="5" height="5" fill="#000"/>
<rect x="285" y="128" width="3" height="3" fill="#808080"/>
<rect x="292" y="117" width="1" height="27" fill="#000"/>
<rect x="290" y="118" width="5" height="14" fill="#000"/>
<rect x="291" y="119" width="3" height="12" fill="#fff"/>
<rect x="298" y="118" width="1" height="20" fill="#000"/>
<rect x="296" y="118" width="5" height="15" fill="#000"/>
<rect x="297" y="119" width="3" height="13" fill="#808080"/>
<rect x="304" y="122" width="1" height="20" fill="#000"/>
<rect x="302" y="132" width="5" height="8" fill="#000"/>
<rect x="303" y="133" width="3" height="6" fill="#808080"/>
<rect x="310" y="131" width="1" height="13" fill="#000"/>
<rect x="308" y="138" width="5" height="2" fill="#000"/>
<rect x="316" y="127" width="1" height="13" fill="#000"/>
<rect x="314" y="132" width="5" height="7" fill="#000"/>
<rect x="315" y="133" width="3" height="5" fill="#fff"/>
<rect x="322" y="128" width="1" height="14" fill="#000"/>
<rect x="320" y="132" width="5" height="7" fill="#000"/>
<rect x="321" y="133" width="3" height="5" fill="#808080"/>
<rect x="328" y="136" width="1" height="19" fill="#000"/>
<rect x="326" y="138" width="5" height="7" fill="#000"/>
<rect x="327" y="139" width="3" height="5" fill="#808080"/>
<rect x="334" y="143" width="1" height="31" fill="#000"/>
<rect x="332" y="144" width="5" height="30" fill="#000"/>
<rect x="333" y="145" width="3" height="28" fill="#808080"/>
<rect x="340" y="165" width="1" height="22" fill="#000"/>
<rect x="338" y="173" width="5" height="6" fill="#000"/>
<rect x="339" y="174" width="3" height="4" fill="#808080"/>
<rect x="346" y="172" width="1" height="16" fill="#000"/>
<rect x="344" y="178" width="5" height="9" fill="#000"/>
<rect x="345" y="179" width="3" height="7" fill="#808080"/>
<rect x="352" y="172" width="1" height="15" fill="#000"/>
<rect x="350" y="175" width="5" height="12" fill="#000"/>
<rect x="351" y="176" width="3" height="10" fill="#fff"/>
<rect x="358" y="169" width="1" height="12" fill="#000"/>
<rect x="356" y="170" width="5" height="6" fill="#000"/>
<rect x="357" y="171" width="3" height="4" fill="#fff"/>
<rect x="364" y="169" width="1" height="9" fill="#000"/>
<rect x="362" y="170" width="5" height="3" fill="#000"/>
<rect x="363" y="171" width="3" height="1" fill="#fff"/>
<rect x="370" y="166" width="1" height="7" fill="#000"/>
<rect x="368" y="172" width="5" height="2" fill="#000"/>
<rect x="376" y="162" width="1" height="18" fill="#000"/>
<rect x="374" y="173" width="5" height="7" fill="#000"/>
<rect x="375" y="174" width="3" height="5" fill="#808080"/>
<rect x="382" y="172" width="1" height="14" fill="#000"/>
<rect x="380" y="178" width="5" height="2" fill="#000"/>
<rect x="388" y="155" width="1" height="24" fill="#000"/>
<rect x="386" y="161" width="5" height="19" fill="#000"/>
<rect x="387" y="162" width="3" height="17" fill="#fff"/>
<rect x="394" y="153" width="1" height="10" fill="#000"/>
<rect x="392" y="160" width="5" height="2" fill="#000"/>
<rect x="400" y="156" width="1" height="16" fill="#000"/>
<rect x="398" y="160" width="5" height="12" fill="#000"/>
<rect x="399" y="161" width="3" height="10" fill="#808080"/>
<rect x="406" y="163" width="1" height="14" fill="#000"/>
<rect x="404" y="171" width="5" height="4" fill="#000"/>
<rect x="405" y="172" width="3" height="2" fill="#808080"/>
<rect x="412" y="174" width="1" height="24" fill="#000"/>
<rect x="410" y="174" width="5" height="24" fill="#000"/>
<rect x="411" y="175" width="3" height="22" fill="#808080"/>
<rect x="418" y="195" width="1" height="14" fill="#000"/>
<rect x="416" y="197" width="5" height="8" fill="#000"/>
<rect x="417" y="198" width="3" height="6" fill="#808080"/>
<rect x="424" y="200" width="1" height="15" fill="#000"/>
<rect x="422" y="201" width="5" height="4" fill="#000"/>
<rect x="423" y="202" width="3" height="2" fill="#fff"/>
<rect x="430" y="178" width="1" height="28" fill="#000"/>
<rect x="428" y="191" width="5" height="11" fill="#000"/>
<rect x="429" y="192" width="3" height="9" fill="#fff"/>
<rect x="436" y="190" width="1" height="39" fill="#000"/>
<rect x="434" y="191" width="5" height="37" fill="#000"/>
<rect x="435" y="192" width="3" height="35" fill="#808080"/>
<rect x="442" y="224" width="1" height="20" fill="#000"/>
<rect x="440" y="227" width="5" height="12" fill="#000"/>
<rect x="441" y="228" width="3" height="10" fill="#808080"/>
<rect x="448" y="231" width="1" height="22" fill="#000"/>
<rect x="446" y="238" width="5" height="9" fill="#000"/>
<rect x="447" y="239" width="3" height="7" fill="#808080"/>
<rect x="454" y="238" width="1" height="14" fill="#000"/>
<rect x="452" y="246" width="5" height="4" fill="#000"/>
<rect x="453" y="247" width="3" height="2" fill="#808080"/>
<rect x="460" y="243" width="1" height="26" fill="#000"/>
<rect x="458" y="249" width="5" height="14" fill="#000"/>
<rect x="459" y="250" width="3" height="12" fill="#808080"/>
<rect x="466" y="241" width="1" height="30" fill="#000"/>
<rect x="464" y="248" width="5" height="15" fill="#000"/>
<rect x="465" y="249" width="3" height="13" fill="#fff"/>
<rect x="472" y="227" width="1" height="38" fill="#000"/>
<rect x="470" y="245" width="5" height="4" fill="#000"/>
<rect x="471" y="246" width="3" height="2" fill="#fff"/>
<rect x="478" y="222" width="1" height="38" fill="#000"/>
<rect x="476" y="229" width="5" height="17" fill="#000"/>
<rect x="477" y="230" width="3" height="15" fill="#fff"/>
<rect x="484" y="225" width="1" height="35" fill="#000"/>
<rect x="482" y="229" width="5" height="14" fill="#000"/>
<rect x="483" y="230" width="3" height="12" fill="#808080"/>
<rect x="490" y="239" width="1" height="21" fill="#000"/>
<rect x="488" y="242" width="5" height="15" fill="#000"/>
<rect x="489" y="243" width="3" height="13" fill="#808080"/>
<rect x="496" y="236" width="1" height="27" fill="#000"/>
<rect x="494" y="240" width="5" height="17" fill="#000"/>
<rect x="495" y="241" width="3" height="15" fill="#fff"/>
<rect x="502" y="235" width="1" height="16" fill="#000"/>
<rect x="500" y="240" width="5" height="2" fill="#000"/>
<rect x="508" y="232" width="1" height="14" fill="#000"/>
<rect x="506" y="234" width="5" height="8" fill="#000"/>
<rect x="507" y="235" width="3" height="6" fill="#fff"/>
<rect x="514" y="229" width="1" height="14" fill="#000"/>
<rect x="512" y="234" width="5" height="4" fill="#000"/>
<rect x="513" y="235" width="3" height="2" fill="#808080"/>
<rect x="520" y="218" width="1" height="25" fill="#000"/>
<rect x="518" y="237" width="5" height="2" fill="#000"/>
<rect x="526" y="233" width="1" height="14" fill="#000"/>
<rect x="524" y="234" width="5" height="4" fill="#000"/>
<rect x="525" y="235" width="3" height="2" fill="#fff"/>
<rect x="532" y="227" width="1" height="10" fill="#000"/>
<rect x="530" y="234" width="5" height="2" fill="#000"/>
<rect x="538" y="223" width="1" height="13" fill="#000"/>
<rect x="536" y="232" width="5" height="4" fill="#000"/>
<rect x="537" y="233" width="3" height="2" fill="#fff"/>
<rect x="544" y="233" width="1" height="20" fill="#000"/>
<rect x="542" y="232" width="5" height="18" fill="#000"/>
<rect x="543" y="233" width="3" height="16" fill="#808080"/>
<rect x="550" y="238" width="1" height="11" fill="#000"/>
<rect x="548" y="239" width="5" height="11" fill="#000"/>
<rect x="549" y="240" width="3" height="9" fill="#fff"/>
<rect x="556" y="228" width="1" height="14" fill="#000"/>
<rect x="554" y="231" width="5" height="9" fill="#000"/>
<rect x="555" y="232" width="3" height="7" fill="#fff"/>
<rect x="562" y="223" width="1" height="8" fill="#000"/>
<rect x="560" y="227" width="5" height="5" fill="#000"/>
<rect x="561" y="228" width="3" height="3" fill="#fff"/>
<rect x="568" y="228" width="1" height="8" fill="#000"/>
<rect x="566" y="227" width="5" height="4" fill="#000"/>
<rect x="567" y="228" width="3" height="2" fill="#808080"/>
<rect x="574" y="228" width="1" height="17" fill="#000"/>
<rect x="572" y="230" width="5" height="11" fill="#000"/>
<rect x="573" y="231" width="3" height="9" fill="#808080"/>
<rect x="580" y="226" width="1" height="19" fill="#000"/>
<rect x="578" y="237" width="5" height="4" fill="#000"/>
<rect x="579" y="238" width="3" height="2" fill="#fff"/>
<rect x="586" y="227" width="1" height="14" fill="#000"/>
<rect x="584" y="229" width="5" height="9" fill="#000"/>
<rect x="585" y="230" width="3" height="7" fill="#fff"/>
<rect x="592" y="219" width="1" height="20" fill="#000"/>
<rect x="590" y="222" width="5" height="8" fill="#000"/>
<rect x="591" y="223" width="3" height="6" fill="#fff"/>
<rect x="598" y="220" width="1" height="13" fill="#000"/>
<rect x="596" y="222" width="5" height="8" fill="#000"/>
<rect x="597" y="223" width="3" height="6" fill="#808080"/>
<rect x="604" y="226" width="1" height="25" fill="#000"/>
<rect x="602" y="229" width="5" height="14" fill="#000"/>
<rect x="603" y="230" width="3" height="12" fill="#808080"/>
<rect x="610" y="242" width="1" height="62" fill="#000"/>
<rect x="608" y="242" width="5" height="62" fill="#000"/>
<rect x="609" y="243" width="3" height="60" fill="#808080"/>
<rect x="616" y="287" width="1" height="26" fill="#000"/>
<rect x="614" y="303" width="5" height="6" fill="#000"/>
<rect x="615" y="304" width="3" height="4" fill="#808080"/>
<rect x="622" y="286" width="1" height="37" fill="#000"/>
<rect x="620" y="300" width="5" height="9" fill="#000"/>
<rect x="621" y="301" width="3" height="7" fill="#fff"/>
<rect x="628" y="266" width="1" height="53" fill="#000"/>
<rect x="626" y="300" width="5" height="2" fill="#000"/>
<rect x="634" y="256" width="1" height="47" fill="#000"/>
<rect x="632" y="268" width="5" height="33" fill="#000"/>
<rect x="633" y="269" width="3" height="31" fill="#fff"/>
<rect x="640" y="244" width="1" height="27" fill="#000"/>
<rect x="638" y="267" width="5" height="2" fill="#000"/>
<rect x="646" y="247" width="1" height="21" fill="#000"/>
<rect x="644" y="257" width="5" height="11" fill="#000"/>
<rect x="645" y="258" width="3" height="9" fill="#fff"/>
<rect x="652" y="228" width="1" height="34" fill="#000"/>
<rect x="650" y="242" width="5" height="16" fill="#000"/>
<rect x="651" y="243" width="3" height="14" fill="#fff"/>
<rect x="658" y="226" width="1" height="21" fill="#000"/>
<rect x="656" y="239" width="5" height="4" fill="#000"/>
<rect x="657" y="240" width="3" height="2" fill="#fff"/>
<rect x="664" y="224" width="1" height="20" fill="#000"/>
<rect x="662" y="237" width="5" height="3" fill="#000"/>
<rect x="663" y="238" width="3" height="1" fill="#fff"/>
<rect x="670" y="234" width="1" height="11" fill="#000"/>
<rect x="668" y="236" width="5" height="2" fill="#000"/>
<rect x="676" y="217" width="1" height="21" fill="#000"/>
<rect x="674" y="217" width="5" height="20" fill="#000"/>
<rect x="675" y="218" width="3" height="18" fill="#fff"/>
<rect x="682" y="215" width="1" height="32" fill="#000"/>
<rect x="680" y="217" width="5" height="27" fill="#000"/>
<rect x="681" y="218" width="3" height="25" fill="#808080"/>
<rect x="688" y="239" width="1" height="9" fill="#000"/>
<rect x="686" y="243" width="5" height="6" fill="#000"/>
<rect x="687" y="244" width="3" height="4" fill="#808080"/>
<rect x="694" y="239" width="1" height="17" fill="#000"/>
<rect x="692" y="247" width="5" height="2" fill="#000"/>
<rect x="700" y="246" width="1" height="8" fill="#000"/>
<rect x="698" y="247" width="5" height="7" fill="#000"/>
<rect x="699" y="248" width="3" height="5" fill="#808080"/>
<rect x="706" y="254" width="1" height="12" fill="#000"/>
<rect x="704" y="253" width="5" height="6" fill="#000"/>
<rect x="705" y="254" width="3" height="4" fill="#808080"/>
<rect x="712" y="249" width="1" height="10" fill="#000"/>
<rect x="710" y="258" width="5" height="2" fill="#000"/>
<rect x="718" y="251" width="1" height="11" fill="#000"/>
<rect x="716" y="256" width="5" height="3" fill="#000"/>
<rect x="717" y="257" width="3" height="1" fill="#fff"/>
<rect x="724" y="253" width="1" height="10" fill="#000"/>
<rect x="722" y="256" width="5" height="4" fill="#000"/>
<rect x="723" y="257" width="3" height="2" fill="#808080"/>
<rect x="730" y="241" width="1" height="20" fill="#000"/>
<rect x="728" y="257" width="5" height="3" fill="#000"/>
<rect x="729" y="258" width="3" height="1" fill="#fff"/>
<rect x="736" y="246" width="1" height="24" fill="#000"/>
<rect x="734" y="250" width="5" height="8" fill="#000"/>
<rect x="735" y="251" width="3" height="6" fill="#fff"/>
<rect x="742" y="236" width="1" height="18" fill="#000"/>
<rect x="740" y="250" width="5" height="5" fill="#000"/>
<rect x="741" y="251" width="3" height="3" fill="#808080"/>
<rect x="748" y="243" width="1" height="14" fill="#000"/>
<rect x="746" y="245" width="5" height="10" fill="#000"/>
<rect x="747" y="246" width="3" height="8" fill="#fff"/>
<rect x="754" y="244" width="1" height="33" fill="#000"/>
<rect x="752" y="245" width="5" height="24" fill="#000"/>
<rect x="753" y="246" width="3" height="22" fill="#808080"/>
<rect x="760" y="266" width="1" height="24" fill="#000"/>
<rect x="758" y="268" width="5" height="14" fill="#000"/>
<rect x="759" y="269" width="3" height="12" fill="#808080"/>
<rect x="766" y="266" width="1" height="37" fill="#000"/>
<rect x="764" y="276" width="5" height="6" fill="#000"/>
<rect x="765" y="277" width="3" height="4" fill="#fff"/>
<rect x="772" y="258" width="1" height="44" fill="#000"/>
<rect x="770" y="276" width="5" height="18" fill="#000"/>
<rect x="771" y="277" width="3" height="16" fill="#808080"/>
<rect x="778" y="285" width="1" height="28" fill="#000"/>
<rect x="776" y="293" width="5" height="5" fill="#000"/>
<rect x="777" y="294" width="3" height="3" fill="#808080"/>
<rect x="784" y="281" width="1" height="44" fill="#000"/>
<rect x="782" y="297" width="5" height="27" fill="#000"/>
<rect x="783" y="298" width="3" height="25" fill="#808080"/>
<rect x="790" y="311" width="1" height="16" fill="#000"/>
<rect x="788" y="323" width="5" height="2" fill="#000"/>
<rect x="796" y="311" width="1" height="15" fill="#000"/>
<rect x="794" y="312" width="5" height="12" fill="#000"/>
<rect x="795" y="313" width="3" height="10" fill="#fff"/>
<rect x="802" y="309" width="1" height="13" fill="#000"/>
<rect x="800" y="312" width="5" height="8" fill="#000"/>
<rect x="801" y="313" width="3" height="6" fill="#808080"/>
<rect x="808" y="314" width="1" height="12" fill="#000"/>
<rect x="806" y="319" width="5" height="6" fill="#000"/>
<rect x="807" y="320" width="3" height="4" fill="#808080"/>
<rect x="814" y="321" width="1" height="9" fill="#000"/>
<rect x="812" y="323" width="5" height="2" fill="#000"/>
<rect x="820" y="322" width="1" height="8" fill="#000"/>
<rect x="818" y="323" width="5" height="3" fill="#000"/>
<rect x="819" y="324" width="3" height="1" fill="#808080"/>
<rect x="826" y="310" width="1" height="15" fill="#000"/>
<rect x="824" y="317" width="5" height="9" fill="#000"/>
<rect x="825" y="318" width="3" height="7" fill="#fff"/>
<rect x="832" y="315" width="1" height="11" fill="#000"/>
<rect x="830" y="317" width="5" height="2" fill="#000"/>
<rect x="838" y="304" width="1" height="15" fill="#000"/>
<rect x="836" y="310" width="5" height="9" fill="#000"/>
<rect x="837" y="311" width="3" height="7" fill="#fff"/>
<rect x="844" y="305" width="1" height="9" fill="#000"/>
<rect x="842" y="307" width="5" height="4" fill="#000"/>
<rect x="843" y="308" width="3" height="2" fill="#fff"/>
<rect x="850" y="303" width="1" height="14" fill="#000"/>
<rect x="848" y="307" width="5" height="9" fill="#000"/>
<rect x="849" y="308" width="3" height="7" fill="#808080"/>
<rect x="856" y="313" width="1" height="14" fill="#000"/>
<rect x="854" y="315" width="5" height="3" fill="#000"/>
<rect x="855" y="316" width="3" height="1" fill="#808080"/>
<rect x="862" y="308" width="1" height="11" fill="#000"/>
<rect x="860" y="313" width="5" height="5" fill="#000"/>
<rect x="861" y="314" width="3" height="3" fill="#fff"/>
<rect x="868" y="302" width="1" height="21" fill="#000"/>
<rect x="866" y="307" width="5" height="7" fill="#000"/>
<rect x="867" y="308" width="3" height="5" fill="#fff"/>
<rect x="874" y="297" width="1" height="26" fill="#000"/>
<rect x="872" y="307" width="5" height="15" fill="#000"/>
<rect x="873" y="308" width="3" height="13" fill="#808080"/>
<rect x="880" y="311" width="1" height="15" fill="#000"/>
<rect x="878" y="310" width="5" height="12" fill="#000"/>
<rect x="879" y="311" width="3" height="10" fill="#fff"/>
<rect x="886" y="304" width="1" height="25" fill="#000"/>
<rect x="884" y="310" width="5" height="20" fill="#000"/>
<rect x="885" y="311" width="3" height="18" fill="#808080"/>
<rect x="892" y="321" width="1" height="15" fill="#000"/>
<rect x="890" y="329" width="5" height="6" fill="#000"/>
<rect x="891" y="330" width="3" height="4" fill="#808080"/>
<rect x="898" y="331" width="1" height="23" fill="#000"/>
<rect x="896" y="334" width="5" height="21" fill="#000"/>
<rect x="897" y="335" width="3" height="19" fill="#808080"/>
<rect x="904" y="354" width="1" height="17" fill="#000"/>
<rect x="902" y="354" width="5" height="5" fill="#000"/>
<rect x="903" y="355" width="3" height="3" fill="#808080"/>
<rect x="910" y="351" width="1" height="37" fill="#000"/>
<rect x="908" y="358" width="5" height="25" fill="#000"/>
<rect x="909" y="359" width="3" height="23" fill="#808080"/>
<rect x="916" y="383" width="1" height="31" fill="#000"/>
<rect x="914" y="382" width="5" height="33" fill="#000"/>
<rect x="915" y="383" width="3" height="31" fill="#808080"/>
<rect x="922" y="396" width="1" height="39" fill="#000"/>
<rect x="920" y="414" width="5" height="18" fill="#000"/>
<rect x="921" y="415" width="3" height="16" fill="#808080"/>
<rect x="928" y="428" width="1" height="43" fill="#000"/>
<rect x="926" y="431" width="5" height="24" fill="#000"/>
<rect x="927" y="432" width="3" height="22" fill="#808080"/>
<rect x="934" y="431" width="1" height="24" fill="#000"/>
<rect x="932" y="453" width="5" height="2" fill="#000"/>
<rect x="940" y="452" width="1" height="20" fill="#000"/>
<rect x="938" y="453" width="5" height="14" fill="#000"/>
<rect x="939" y="454" width="3" height="12" fill="#808080"/>
<rect x="946" y="462" width="1" height="26" fill="#000"/>
<rect x="944" y="466" width="5" height="19" fill="#000"/>
<rect x="945" y="467" width="3" height="17" fill="#808080"/>
<rect x="952" y="468" width="1" height="22" fill="#000"/>
<rect x="950" y="484" width="5" height="2" fill="#000"/>
<rect x="958" y="470" width="1" height="22" fill="#000"/>
<rect x="956" y="478" width="5" height="10" fill="#000"/>
<rect x="957" y="479" width="3" height="8" fill="#fff"/>
<rect x="964" y="461" width="1" height="38" fill="#000"/>
<rect x="962" y="477" width="5" height="2" fill="#000"/>
<rect x="970" y="467" width="1" height="30" fill="#000"/>
<rect x="968" y="477" width="5" height="21" fill="#000"/>
<rect x="969" y="478" width="3" height="19" fill="#808080"/>
<rect x="976" y="495" width="1" height="24" fill="#000"/>
<rect x="974" y="497" width="5" height="11" fill="#000"/>
<rect x="975" y="498" width="3" height="9" fill="#808080"/>
<rect x="982" y="501" width="1" height="22" fill="#000"/>
<rect x="980" y="507" width="5" height="4" fill="#000"/>
<rect x="981" y="508" width="3" height="2" fill="#808080"/>
<rect x="988" y="501" width="1" height="12" fill="#000"/>
<rect x="986" y="504" width="5" height="7" fill="#000"/>
<rect x="987" y="505" width="3" height="5" fill="#fff"/>
<rect x="994" y="497" width="1" height="22" fill="#000"/>
<rect x="992" y="504" width="5" height="11" fill="#000"/>
<rect x="993" y="505" width="3" height="9" fill="#808080"/>
<rect x="1000" y="510" width="1" height="14" fill="#000"/>
<rect x="998" y="513" width="5" height="2" fill="#000"/>
<rect x="1006" y="505" width="1" height="19" fill="#000"/>
<rect x="1004" y="512" width="5" height="3" fill="#000"/>
<rect x="1005" y="513" width="3" height="1" fill="#fff"/>
<rect x="1012" y="485" width="1" height="28" fill="#000"/>
<rect x="1010" y="485" width="5" height="28" fill="#000"/>
<rect x="1011" y="486" width="3" height="26" fill="#fff"/>
<rect x="1018" y="485" width="1" height="31" fill="#000"/>
<rect x="1016" y="485" width="5" height="24" fill="#000"/>
<rect x="1017" y="486" width="3" height="22" fill="#808080"/>
<rect x="1024" y="505" width="1" height="19" fill="#000"/>
<rect x="1022" y="508" width="5" height="13" fill="#000"/>
<rect x="1023" y="509" width="3" height="11" fill="#808080"/>
<rect x="1030" y="515" width="1" height="15" fill="#000"/>
<rect x="1028" y="516" width="5" height="5" fill="#000"/>
<rect x="1029" y="517" width="3" height="3" fill="#fff"/>
<rect x="1036" y="501" width="1" height="16" fill="#000"/>
<rect x="1034" y="506" width="5" height="11" fill="#000"/>
<rect x="1035" y="507" width="3" height="9" fill="#fff"/>
<rect x="1042" y="480" width="1" height="30" fill="#000"/>
<rect x="1040" y="482" width="5" height="25" fill="#000"/>
<rect x="1041" y="483" width="3" height="23" fill="#fff"/>
<rect x="1048" y="455" width="1" height="28" fill="#000"/>
<rect x="1046" y="472" width="5" height="11" fill="#000"/>
<rect x="1047" y="473" width="3" height="9" fill="#fff"/>
<rect x="1054" y="467" width="1" height="44" fill="#000"/>
<rect x="1052" y="472" width="5" height="28" fill="#000"/>
<rect x="1053" y="473" width="3" height="26" fill="#808080"/>
<rect x="1060" y="477" width="1" height="39" fill="#000"/>
<rect x="1058" y="499" width="5" height="16" fill="#000"/>
<rect x="1059" y="500" width="3" height="14" fill="#808080"/>
<rect x="1066" y="479" width="1" height="44" fill="#000"/>
<rect x="1064" y="490" width="5" height="25" fill="#000"/>
<rect x="1065" y="491" width="3" height="23" fill="#fff"/>
<rect x="1072" y="457" width="1" height="33" fill="#000"/>
<rect x="1070" y="472" width="5" height="19" fill="#000"/>
<rect x="1071" y="473" width="3" height="17" fill="#fff"/>
<rect x="1078" y="466" width="1" height="12" fill="#000"/>
<rect x="1076" y="472" width="5" height="7" fill="#000"/>
<rect x="1077" y="473" width="3" height="5" fill="#808080"/>
</g>
</g>
<line x1="0" y1="478.5" x2="1213" y2="478.5" stroke="#7d7d7d" stroke-width="1" stroke-dasharray="1 2" shape-rendering="crispEdges"/>
<g clip-path="url(#cd)">
<g shape-rendering="crispEdges">
<rect x="-4" y="687" width="5" height="17" fill="#ace5dc"/>
<rect x="2" y="687" width="5" height="17" fill="#ace5dc"/>
<rect x="8" y="687" width="5" height="17" fill="#22ab94"/>
<rect x="14" y="688" width="5" height="16" fill="#ace5dc"/>
<rect x="20" y="691" width="5" height="13" fill="#ace5dc"/>
<rect x="26" y="694" width="5" height="10" fill="#ace5dc"/>
<rect x="32" y="697" width="5" height="7" fill="#ace5dc"/>
<rect x="38" y="695" width="5" height="9" fill="#22ab94"/>
<rect x="44" y="695" width="5" height="9" fill="#22ab94"/>
<rect x="50" y="703" width="5" height="1" fill="#ff5252"/>
<rect x="56" y="703" width="5" height="5" fill="#ff5252"/>
<rect x="62" y="703" width="5" height="8" fill="#ff5252"/>
<rect x="68" y="703" width="5" height="12" fill="#ff5252"/>
<rect x="74" y="703" width="5" height="14" fill="#ff5252"/>
<rect x="80" y="703" width="5" height="12" fill="#fccbcd"/>
<rect x="86" y="703" width="5" height="16" fill="#ff5252"/>
<rect x="92" y="703" width="5" height="17" fill="#ff5252"/>
<rect x="98" y="703" width="5" height="16" fill="#fccbcd"/>
<rect x="104" y="703" width="5" height="12" fill="#fccbcd"/>
<rect x="110" y="703" width="5" height="9" fill="#fccbcd"/>
<rect x="116" y="703" width="5" height="10" fill="#ff5252"/>
<rect x="122" y="703" width="5" height="12" fill="#ff5252"/>
<rect x="128" y="703" width="5" height="12" fill="#fccbcd"/>
<rect x="134" y="703" width="5" height="10" fill="#fccbcd"/>
<rect x="140" y="703" width="5" height="8" fill="#fccbcd"/>
<rect x="146" y="703" width="5" height="5" fill="#fccbcd"/>
<rect x="152" y="703" width="5" height="2" fill="#fccbcd"/>
<rect x="158" y="703" width="5" height="1" fill="#22ab94"/>
<rect x="164" y="703" width="5" height="1" fill="#22ab94"/>
<rect x="170" y="703" width="5" height="1" fill="#ff5252"/>
<rect x="176" y="703" width="5" height="3" fill="#ff5252"/>
<rect x="182" y="702" width="5" height="2" fill="#22ab94"/>
<rect x="188" y="697" width="5" height="7" fill="#22ab94"/>
<rect x="194" y="689" width="5" height="15" fill="#22ab94"/>
<rect x="200" y="682" width="5" height="22" fill="#22ab94"/>
<rect x="206" y="677" width="5" height="27" fill="#22ab94"/>
<rect x="212" y="676" width="5" height="28" fill="#22ab94"/>
<rect x="218" y="681" width="5" height="23" fill="#ace5dc"/>
<rect x="224" y="685" width="5" height="19" fill="#ace5dc"/>
<rect x="230" y="691" width="5" height="13" fill="#ace5dc"/>
<rect x="236" y="696" width="5" height="8" fill="#ace5dc"/>
<rect x="242" y="703" width="5" height="3" fill="#ff5252"/>
<rect x="248" y="703" width="5" height="12" fill="#ff5252"/>
<rect x="254" y="703" width="5" height="15" fill="#ff5252"/>
<rect x="260" y="703" width="5" height="16" fill="#ff5252"/>
<rect x="266" y="703" width="5" height="16" fill="#ff5252"/>
<rect x="272" y="703" width="5" height="19" fill="#ff5252"/>
<rect x="278" y="703" width="5" height="20" fill="#ff5252"/>
<rect x="284" y="703" width="5" height="20" fill="#ff5252"/>
<rect x="290" y="703" width="5" height="17" fill="#fccbcd"/>
<rect x="296" y="703" width="5" height="17" fill="#ff5252"/>
<rect x="302" y="703" width="5" height="17" fill="#ff5252"/>
<rect x="308" y="703" width="5" height="17" fill="#fccbcd"/>
<rect x="314" y="703" width="5" height="14" fill="#fccbcd"/>
<rect x="320" y="703" width="5" height="13" fill="#fccbcd"/>
<rect x="326" y="703" width="5" height="14" fill="#ff5252"/>
<rect x="332" y="703" width="5" height="21" fill="#ff5252"/>
<rect x="338" y="703" width="5" height="25" fill="#ff5252"/>
<rect x="344" y="703" width="5" height="28" fill="#ff5252"/>
<rect x="350" y="703" width="5" height="26" fill="#fccbcd"/>
<rect x="356" y="703" width="5" height="21" fill="#fccbcd"/>
<rect x="362" y="703" width="5" height="17" fill="#fccbcd"/>
<rect x="368" y="703" width="5" height="14" fill="#fccbcd"/>
<rect x="374" y="703" width="5" height="12" fill="#fccbcd"/>
<rect x="380" y="703" width="5" height="10" fill="#fccbcd"/>
<rect x="386" y="703" width="5" height="3" fill="#fccbcd"/>
<rect x="392" y="700" width="5" height="4" fill="#22ab94"/>
<rect x="398" y="699" width="5" height="5" fill="#22ab94"/>
<rect x="404" y="699" width="5" height="5" fill="#22ab94"/>
<rect x="410" y="703" width="5" height="3" fill="#ff5252"/>
<rect x="416" y="703" width="5" height="7" fill="#ff5252"/>
<rect x="422" y="703" width="5" height="9" fill="#ff5252"/>
<rect x="428" y="703" width="5" height="6" fill="#fccbcd"/>
<rect x="434" y="703" width="5" height="13" fill="#ff5252"/>
<rect x="440" y="703" width="5" height="19" fill="#ff5252"/>
<rect x="446" y="703" width="5" height="23" fill="#ff5252"/>
<rect x="452" y="703" width="5" height="25" fill="#ff5252"/>
<rect x="458" y="703" width="5" height="27" fill="#ff5252"/>
<rect x="464" y="703" width="5" height="23" fill="#fccbcd"/>
<rect x="470" y="703" width="5" height="18" fill="#fccbcd"/>
<rect x="476" y="703" width="5" height="8" fill="#fccbcd"/>
<rect x="482" y="703" width="5" height="5" fill="#fccbcd"/>
<rect x="488" y="703" width="5" height="5" fill="#ff5252"/>
<rect x="494" y="702" width="5" height="2" fill="#22ab94"/>
<rect x="500" y="698" width="5" height="6" fill="#22ab94"/>
<rect x="506" y="693" width="5" height="11" fill="#22ab94"/>
<rect x="512" y="691" width="5" height="13" fill="#22ab94"/>
<rect x="518" y="689" width="5" height="15" fill="#22ab94"/>
<rect x="524" y="687" width="5" height="17" fill="#22ab94"/>
<rect x="530" y="687" width="5" height="17" fill="#22ab94"/>
<rect x="536" y="685" width="5" height="19" fill="#22ab94"/>
<rect x="542" y="689" width="5" height="15" fill="#ace5dc"/>
<rect x="548" y="689" width="5" height="15" fill="#22ab94"/>
<rect x="554" y="687" width="5" height="17" fill="#22ab94"/>
<rect x="560" y="685" width="5" height="19" fill="#22ab94"/>
<rect x="566" y="685" width="5" height="19" fill="#22ab94"/>
<rect x="572" y="688" width="5" height="16" fill="#ace5dc"/>
<rect x="578" y="690" width="5" height="14" fill="#ace5dc"/>
<rect x="584" y="689" width="5" height="15" fill="#22ab94"/>
<rect x="590" y="687" width="5" height="17" fill="#22ab94"/>
<rect x="596" y="688" width="5" height="16" fill="#ace5dc"/>
<rect x="602" y="693" width="5" height="11" fill="#ace5dc"/>
<rect x="608" y="703" width="5" height="9" fill="#ff5252"/>
<rect x="614" y="703" width="5" height="21" fill="#ff5252"/>
<rect x="620" y="703" width="5" height="26" fill="#ff5252"/>
<rect x="626" y="703" width="5" height="27" fill="#ff5252"/>
<rect x="632" y="703" width="5" height="17" fill="#fccbcd"/>
<rect x="638" y="703" width="5" height="10" fill="#fccbcd"/>
<rect x="644" y="703" width="5" height="2" fill="#fccbcd"/>
<rect x="650" y="694" width="5" height="10" fill="#22ab94"/>
<rect x="656" y="687" width="5" height="17" fill="#22ab94"/>
<rect x="662" y="683" width="5" height="21" fill="#22ab94"/>
<rect x="668" y="681" width="5" height="23" fill="#22ab94"/>
<rect x="674" y="675" width="5" height="29" fill="#22ab94"/>
<rect x="680" y="679" width="5" height="25" fill="#ace5dc"/>
<rect x="686" y="684" width="5" height="20" fill="#ace5dc"/>
<rect x="692" y="688" width="5" height="16" fill="#ace5dc"/>
<rect x="698" y="693" width="5" height="11" fill="#ace5dc"/>
<rect x="704" y="697" width="5" height="7" fill="#ace5dc"/>
<rect x="710" y="700" width="5" height="4" fill="#ace5dc"/>
<rect x="716" y="702" width="5" height="2" fill="#ace5dc"/>
<rect x="722" y="703" width="5" height="1" fill="#ace5dc"/>
<rect x="728" y="703" width="5" height="1" fill="#ff5252"/>
<rect x="734" y="702" width="5" height="2" fill="#22ab94"/>
<rect x="740" y="702" width="5" height="2" fill="#22ab94"/>
<rect x="746" y="699" width="5" height="5" fill="#22ab94"/>
<rect x="752" y="703" width="5" height="2" fill="#ff5252"/>
<rect x="758" y="703" width="5" height="8" fill="#ff5252"/>
<rect x="764" y="703" width="5" height="10" fill="#ff5252"/>
<rect x="770" y="703" width="5" height="14" fill="#ff5252"/>
<rect x="776" y="703" width="5" height="18" fill="#ff5252"/>
<rect x="782" y="703" width="5" height="26" fill="#ff5252"/>
<rect x="788" y="703" width="5" height="29" fill="#ff5252"/>
<rect x="794" y="703" width="5" height="26" fill="#fccbcd"/>
<rect x="800" y="703" width="5" height="25" fill="#fccbcd"/>
<rect x="806" y="703" width="5" height="24" fill="#fccbcd"/>
<rect x="812" y="703" width="5" height="21" fill="#fccbcd"/>
<rect x="818" y="703" width="5" height="18" fill="#fccbcd"/>
<rect x="824" y="703" width="5" height="13" fill="#fccbcd"/>
<rect x="830" y="703" width="5" height="9" fill="#fccbcd"/>
<rect x="836" y="703" width="5" height="3" fill="#fccbcd"/>
<rect x="842" y="700" width="5" height="4" fill="#22ab94"/>
<rect x="848" y="698" width="5" height="6" fill="#22ab94"/>
<rect x="854" y="697" width="5" height="7" fill="#22ab94"/>
<rect x="860" y="696" width="5" height="8" fill="#22ab94"/>
<rect x="866" y="693" width="5" height="11" fill="#22ab94"/>
<rect x="872" y="695" width="5" height="9" fill="#ace5dc"/>
<rect x="878" y="693" width="5" height="11" fill="#22ab94"/>
<rect x="884" y="697" width="5" height="7" fill="#ace5dc"/>
<rect x="890" y="700" width="5" height="4" fill="#ace5dc"/>
<rect x="896" y="703" width="5" height="5" fill="#ff5252"/>
<rect x="902" y="703" width="5" height="10" fill="#ff5252"/>
<rect x="908" y="703" width="5" height="18" fill="#ff5252"/>
<rect x="914" y="703" width="5" height="30" fill="#ff5252"/>
<rect x="920" y="703" width="5" height="40" fill="#ff5252"/>
<rect x="926" y="703" width="5" height="49" fill="#ff5252"/>
<rect x="932" y="703" width="5" height="51" fill="#ff5252"/>
<rect x="938" y="703" width="5" height="52" fill="#ff5252"/>
<rect x="944" y="703" width="5" height="54" fill="#ff5252"/>
<rect x="950" y="703" width="5" height="51" fill="#fccbcd"/>
<rect x="956" y="703" width="5" height="44" fill="#fccbcd"/>
<rect x="962" y="703" width="5" height="35" fill="#fccbcd"/>
<rect x="968" y="703" width="5" height="32" fill="#fccbcd"/>
<rect x="974" y="703" width="5" height="29" fill="#fccbcd"/>
<rect x="980" y="703" width="5" height="25" fill="#fccbcd"/>
<rect x="986" y="703" width="5" height="18" fill="#fccbcd"/>
<rect x="992" y="703" width="5" height="14" fill="#fccbcd"/>
<rect x="998" y="703" width="5" height="9" fill="#fccbcd"/>
<rect x="1004" y="703" width="5" height="3" fill="#fccbcd"/>
<rect x="1010" y="693" width="5" height="11" fill="#22ab94"/>
<rect x="1016" y="690" width="5" height="14" fill="#22ab94"/>
<rect x="1022" y="690" width="5" height="14" fill="#ace5dc"/>
<rect x="1028" y="688" width="5" height="16" fill="#22ab94"/>
<rect x="1034" y="684" width="5" height="20" fill="#22ab94"/>
<rect x="1040" y="674" width="5" height="30" fill="#22ab94"/>
<rect x="1046" y="666" width="5" height="38" fill="#22ab94"/>
<rect x="1052" y="668" width="5" height="36" fill="#ace5dc"/>
<rect x="1058" y="674" width="5" height="30" fill="#ace5dc"/>
<rect x="1064" y="672" width="5" height="32" fill="#22ab94"/>
<rect x="1070" y="666" width="5" height="38" fill="#22ab94"/>
<rect x="1076" y="665" width="5" height="39" fill="#22ab94"/>
</g>
<path d="M-1.5,671.40 L4.5,667.67 L10.5,662.97 L16.5,660.29 L22.5,660.50 L28.5,661.63 L34.5,662.41 L40.5,658.27 L46.5,656.88 L52.5,665.95 L58.5,670.46 L64.5,675.03 L70.5,682.02 L76.5,686.74 L82.5,688.24 L88.5,695.59 L94.5,700.05 L100.5,702.76 L106.5,701.24 L112.5,700.66 L118.5,704.16 L124.5,708.52 L130.5,710.78 L136.5,710.66 L142.5,710.20 L148.5,707.72 L154.5,706.00 L160.5,704.02 L166.5,704.36 L172.5,706.66 L178.5,708.22 L184.5,703.17 L190.5,695.93 L196.5,684.90 L202.5,672.02 L208.5,660.45 L214.5,653.25 L220.5,651.62 L226.5,652.17 L232.5,655.05 L238.5,658.83 L244.5,668.35 L250.5,679.90 L256.5,686.83 L262.5,691.12 L268.5,695.10 L274.5,702.20 L280.5,708.30 L286.5,712.73 L292.5,713.12 L298.5,717.80 L304.5,723.00 L310.5,727.14 L316.5,727.76 L322.5,729.68 L328.5,733.47 L334.5,745.50 L340.5,755.75 L346.5,765.00 L352.5,769.05 L358.5,769.20 L364.5,769.10 L370.5,768.92 L376.5,769.55 L382.5,769.55 L388.5,763.10 L394.5,756.25 L400.5,754.27 L406.5,753.58 L412.5,760.50 L418.5,766.42 L424.5,769.50 L430.5,768.00 L436.5,778.75 L442.5,788.92 L448.5,798.42 L454.5,805.90 L460.5,814.48 L466.5,815.46 L472.5,813.58 L478.5,805.89 L484.5,803.57 L490.5,804.15 L496.5,797.86 L502.5,792.36 L508.5,785.00 L514.5,780.30 L520.5,774.52 L526.5,769.00 L532.5,764.10 L538.5,758.38 L544.5,758.95 L550.5,754.98 L556.5,749.25 L562.5,742.80 L568.5,738.05 L574.5,737.45 L580.5,735.62 L586.5,731.00 L592.5,724.95 L598.5,722.50 L604.5,725.25 L610.5,747.08 L616.5,764.35 L622.5,774.67 L628.5,781.55 L634.5,775.50 L640.5,769.80 L646.5,761.40 L652.5,748.30 L658.5,737.95 L664.5,728.77 L670.5,720.50 L676.5,708.45 L682.5,706.45 L688.5,706.45 L694.5,706.77 L700.5,709.27 L706.5,711.90 L712.5,713.88 L718.5,715.27 L724.5,716.05 L730.5,717.35 L736.5,714.70 L742.5,714.10 L748.5,710.83 L754.5,716.38 L760.5,723.75 L766.5,728.55 L772.5,736.88 L778.5,745.00 L784.5,758.75 L790.5,768.50 L796.5,772.17 L802.5,776.85 L808.5,781.25 L814.5,783.00 L820.5,783.45 L826.5,781.08 L832.5,778.30 L838.5,772.65 L844.5,766.38 L850.5,763.33 L856.5,760.95 L862.5,757.70 L868.5,752.40 L874.5,751.88 L880.5,747.80 L886.5,749.95 L892.5,752.75 L898.5,761.38 L904.5,766.85 L910.5,779.70 L916.5,799.05 L922.5,819.75 L928.5,839.83 L934.5,854.15 L940.5,867.97 L946.5,882.67 L952.5,891.25 L958.5,894.77 L964.5,894.80 L970.5,899.65 L976.5,903.58 L982.5,905.95 L988.5,903.45 L994.5,902.58 L1000.5,899.58 L1006.5,893.45 L1012.5,879.15 L1018.5,872.12 L1024.5,868.90 L1030.5,862.98 L1036.5,854.23 L1042.5,836.42 L1048.5,819.15 L1054.5,811.95 L1060.5,810.00 L1066.5,799.05 L1072.5,785.00 L1078.5,775.00" fill="none" stroke="#2196f3" stroke-width="1" stroke-linejoin="round"/>
<path d="M-1.5,688.70 L4.5,683.47 L10.5,678.91 L16.5,675.26 L22.5,672.50 L28.5,670.52 L34.5,668.73 L40.5,666.75 L46.5,665.00 L52.5,665.40 L58.5,666.22 L64.5,667.95 L70.5,670.89 L76.5,673.89 L82.5,677.06 L88.5,680.93 L94.5,684.69 L100.5,688.31 L106.5,690.83 L112.5,692.83 L118.5,694.81 L124.5,697.29 L130.5,699.77 L136.5,701.83 L142.5,703.30 L148.5,704.19 L154.5,704.71 L160.5,704.75 L166.5,705.02 L172.5,705.43 L178.5,705.44 L184.5,704.85 L190.5,703.46 L196.5,700.00 L202.5,693.75 L208.5,686.90 L214.5,680.00 L220.5,673.75 L226.5,670.00 L232.5,667.25 L238.5,666.00 L244.5,666.50 L250.5,669.40 L256.5,672.75 L262.5,676.25 L268.5,680.00 L274.5,684.40 L280.5,689.40 L286.5,693.75 L292.5,697.75 L298.5,701.90 L304.5,705.90 L310.5,710.57 L316.5,713.87 L322.5,716.87 L328.5,720.34 L334.5,726.00 L340.5,732.50 L346.5,738.50 L352.5,745.00 L358.5,749.40 L364.5,753.10 L370.5,756.25 L376.5,758.75 L382.5,760.40 L388.5,760.60 L394.5,759.75 L400.5,758.75 L406.5,758.10 L412.5,758.50 L418.5,760.00 L424.5,761.50 L430.5,762.90 L436.5,766.25 L442.5,770.60 L448.5,776.25 L454.5,782.50 L460.5,789.25 L466.5,793.92 L472.5,796.96 L478.5,798.68 L484.5,799.24 L490.5,799.75 L496.5,799.12 L502.5,797.82 L508.5,795.60 L514.5,793.10 L520.5,789.40 L526.5,785.60 L532.5,781.00 L538.5,776.50 L544.5,773.10 L550.5,769.75 L556.5,766.00 L562.5,761.25 L568.5,756.50 L574.5,752.75 L580.5,749.40 L586.5,745.60 L592.5,741.25 L598.5,737.50 L604.5,735.50 L610.5,739.40 L616.5,745.00 L622.5,751.25 L628.5,756.25 L634.5,759.40 L640.5,761.00 L646.5,760.60 L652.5,758.10 L658.5,754.40 L664.5,749.40 L670.5,743.75 L676.5,736.90 L682.5,730.60 L688.5,725.60 L694.5,721.90 L700.5,719.40 L706.5,717.90 L712.5,717.10 L718.5,716.75 L724.5,716.75 L730.5,716.90 L736.5,716.25 L742.5,715.90 L748.5,715.00 L754.5,715.25 L760.5,716.90 L766.5,719.40 L772.5,723.10 L778.5,728.10 L784.5,734.40 L790.5,741.25 L796.5,747.50 L802.5,753.50 L808.5,758.75 L814.5,763.50 L820.5,766.90 L826.5,769.40 L832.5,770.60 L838.5,770.90 L844.5,770.00 L850.5,768.75 L856.5,767.25 L862.5,765.40 L868.5,762.90 L874.5,760.60 L880.5,758.10 L886.5,756.50 L892.5,755.90 L898.5,756.90 L904.5,759.30 L910.5,763.90 L916.5,770.90 L922.5,781.10 L928.5,792.00 L934.5,803.75 L940.5,816.25 L946.5,828.75 L952.5,839.70 L958.5,850.30 L964.5,859.20 L970.5,867.80 L976.5,874.80 L982.5,881.10 L988.5,885.80 L994.5,889.20 L1000.5,891.25 L1006.5,891.70 L1012.5,889.40 L1018.5,885.80 L1024.5,882.30 L1030.5,878.75 L1036.5,873.75 L1042.5,866.25 L1048.5,856.90 L1054.5,847.50 L1060.5,839.70 L1066.5,831.10 L1072.5,822.20 L1078.5,813.60" fill="none" stroke="#ff3d78" stroke-width="2" stroke-linejoin="round" stroke-linecap="round"/>
</g>
<g shape-rendering="crispEdges">
<line x1="0" y1="621.5" x2="1280" y2="621.5" stroke="#e0e3eb"/>
<line x1="1210.5" y1="31" x2="1210.5" y2="931.5" stroke="#ececee"/>
</g>
<text x="1224.5" y="46.2" font-size="12" fill="#131722" font-weight="normal" text-anchor="start" textLength="39.5" lengthAdjust="spacingAndGlyphs" stroke="#131722" stroke-width="0.25">1.39400</text>
<text x="1224.5" y="82.6" font-size="12" fill="#131722" font-weight="normal" text-anchor="start" textLength="39.5" lengthAdjust="spacingAndGlyphs" stroke="#131722" stroke-width="0.25">1.39200</text>
<text x="1224.5" y="119.0" font-size="12" fill="#131722" font-weight="normal" text-anchor="start" textLength="39.5" lengthAdjust="spacingAndGlyphs" stroke="#131722" stroke-width="0.25">1.39000</text>
<text x="1224.5" y="155.3" font-size="12" fill="#131722" font-weight="normal" text-anchor="start" textLength="39.5" lengthAdjust="spacingAndGlyphs" stroke="#131722" stroke-width="0.25">1.38800</text>
<text x="1224.5" y="191.7" font-size="12" fill="#131722" font-weight="normal" text-anchor="start" textLength="39.5" lengthAdjust="spacingAndGlyphs" stroke="#131722" stroke-width="0.25">1.38600</text>
<text x="1224.5" y="228.1" font-size="12" fill="#131722" font-weight="normal" text-anchor="start" textLength="39.5" lengthAdjust="spacingAndGlyphs" stroke="#131722" stroke-width="0.25">1.38400</text>
<text x="1224.5" y="264.4" font-size="12" fill="#131722" font-weight="normal" text-anchor="start" textLength="39.5" lengthAdjust="spacingAndGlyphs" stroke="#131722" stroke-width="0.25">1.38200</text>
<text x="1224.5" y="300.8" font-size="12" fill="#131722" font-weight="normal" text-anchor="start" textLength="39.5" lengthAdjust="spacingAndGlyphs" stroke="#131722" stroke-width="0.25">1.38000</text>
<text x="1224.5" y="337.2" font-size="12" fill="#131722" font-weight="normal" text-anchor="start" textLength="39.5" lengthAdjust="spacingAndGlyphs" stroke="#131722" stroke-width="0.25">1.37800</text>
<text x="1224.5" y="373.5" font-size="12" fill="#131722" font-weight="normal" text-anchor="start" textLength="39.5" lengthAdjust="spacingAndGlyphs" stroke="#131722" stroke-width="0.25">1.37600</text>
<text x="1224.5" y="409.9" font-size="12" fill="#131722" font-weight="normal" text-anchor="start" textLength="39.5" lengthAdjust="spacingAndGlyphs" stroke="#131722" stroke-width="0.25">1.37400</text>
<text x="1224.5" y="446.3" font-size="12" fill="#131722" font-weight="normal" text-anchor="start" textLength="39.5" lengthAdjust="spacingAndGlyphs" stroke="#131722" stroke-width="0.25">1.37200</text>
<text x="1224.5" y="482.6" font-size="12" fill="#131722" font-weight="normal" text-anchor="start" textLength="39.5" lengthAdjust="spacingAndGlyphs" stroke="#131722" stroke-width="0.25">1.37000</text>
<text x="1224.5" y="519.0" font-size="12" fill="#131722" font-weight="normal" text-anchor="start" textLength="39.5" lengthAdjust="spacingAndGlyphs" stroke="#131722" stroke-width="0.25">1.36800</text>
<text x="1224.5" y="555.3" font-size="12" fill="#131722" font-weight="normal" text-anchor="start" textLength="39.5" lengthAdjust="spacingAndGlyphs" stroke="#131722" stroke-width="0.25">1.36600</text>
<text x="1224.5" y="591.7" font-size="12" fill="#131722" font-weight="normal" text-anchor="start" textLength="39.5" lengthAdjust="spacingAndGlyphs" stroke="#131722" stroke-width="0.25">1.36400</text>
<text x="1224.5" y="635.2" font-size="12" fill="#131722" font-weight="normal" text-anchor="start" textLength="39.5" lengthAdjust="spacingAndGlyphs" stroke="#131722" stroke-width="0.25">0.00100</text>
<text x="1224.5" y="671.2" font-size="12" fill="#131722" font-weight="normal" text-anchor="start" textLength="39.5" lengthAdjust="spacingAndGlyphs" stroke="#131722" stroke-width="0.25">0.00050</text>
<text x="1224.5" y="707.2" font-size="12" fill="#131722" font-weight="normal" text-anchor="start" textLength="39.5" lengthAdjust="spacingAndGlyphs" stroke="#131722" stroke-width="0.25">0.00000</text>
<text x="1224.5" y="744.2" font-size="12" fill="#131722" font-weight="normal" text-anchor="start" textLength="45.5" lengthAdjust="spacingAndGlyphs" stroke="#131722" stroke-width="0.25">−0.00050</text>
<text x="1224.5" y="780.2" font-size="12" fill="#131722" font-weight="normal" text-anchor="start" textLength="45.5" lengthAdjust="spacingAndGlyphs" stroke="#131722" stroke-width="0.25">−0.00100</text>
<text x="1224.5" y="816.2" font-size="12" fill="#131722" font-weight="normal" text-anchor="start" textLength="45.5" lengthAdjust="spacingAndGlyphs" stroke="#131722" stroke-width="0.25">−0.00150</text>
<text x="1224.5" y="853.2" font-size="12" fill="#131722" font-weight="normal" text-anchor="start" textLength="45.5" lengthAdjust="spacingAndGlyphs" stroke="#131722" stroke-width="0.25">−0.00200</text>
<text x="1224.5" y="889.2" font-size="12" fill="#131722" font-weight="normal" text-anchor="start" textLength="45.5" lengthAdjust="spacingAndGlyphs" stroke="#131722" stroke-width="0.25">−0.00250</text>
<text x="1224.5" y="926.2" font-size="12" fill="#131722" font-weight="normal" text-anchor="start" textLength="45.5" lengthAdjust="spacingAndGlyphs" stroke="#131722" stroke-width="0.25">−0.00300</text>
<rect x="1214" y="408.0" width="56" height="17" rx="2" fill="#e37400"/>
<text x="1224.5" y="420.7" font-size="12" fill="#fff" font-weight="normal" text-anchor="start" textLength="39.5" lengthAdjust="spacingAndGlyphs" stroke="#fff" stroke-width="0.25">1.37345</text>
<rect x="1214" y="453.0" width="56" height="17" rx="2" fill="#2196f3"/>
<text x="1224.5" y="465.7" font-size="12" fill="#fff" font-weight="normal" text-anchor="start" textLength="39.5" lengthAdjust="spacingAndGlyphs" stroke="#fff" stroke-width="0.25">1.37058</text>
<rect x="1214" y="470.0" width="56" height="17" rx="2" fill="#808080"/>
<text x="1224.5" y="482.7" font-size="12" fill="#fff" font-weight="normal" text-anchor="start" textLength="39.5" lengthAdjust="spacingAndGlyphs" stroke="#fff" stroke-width="0.25">1.37002</text>
<rect x="1214" y="487.0" width="56" height="17" rx="2" fill="#f9b233"/>
<text x="1224.5" y="499.7" font-size="12" fill="#000" font-weight="normal" text-anchor="start" textLength="39.5" lengthAdjust="spacingAndGlyphs" stroke="#000" stroke-width="0.25">1.36908</text>
<rect x="1214" y="504.0" width="56" height="17" rx="2" fill="#2f9fe6"/>
<text x="1224.5" y="516.7" font-size="12" fill="#fff" font-weight="normal" text-anchor="start" textLength="39.5" lengthAdjust="spacingAndGlyphs" stroke="#fff" stroke-width="0.25">1.36887</text>
<rect x="1214" y="522.0" width="56" height="17" rx="2" fill="#2196f3"/>
<text x="1224.5" y="534.7" font-size="12" fill="#fff" font-weight="normal" text-anchor="start" textLength="39.5" lengthAdjust="spacingAndGlyphs" stroke="#fff" stroke-width="0.25">1.36717</text>
<rect x="1214" y="657.0" width="56" height="17" rx="2" fill="#26a69a"/>
<text x="1224.5" y="669.7" font-size="12" fill="#fff" font-weight="normal" text-anchor="start" textLength="39.5" lengthAdjust="spacingAndGlyphs" stroke="#fff" stroke-width="0.25">0.00053</text>
<rect x="1214" y="768.0" width="61" height="17" rx="2" fill="#2196f3"/>
<text x="1224.5" y="780.7" font-size="12" fill="#fff" font-weight="normal" text-anchor="start" textLength="45.5" lengthAdjust="spacingAndGlyphs" stroke="#fff" stroke-width="0.25">−0.00100</text>
<rect x="1214" y="806.0" width="61" height="17" rx="2" fill="#ff3d78"/>
<text x="1224.5" y="818.7" font-size="12" fill="#fff" font-weight="normal" text-anchor="start" textLength="45.5" lengthAdjust="spacingAndGlyphs" stroke="#fff" stroke-width="0.25">−0.00153</text>
<clipPath id="ct"><rect x="0" y="931.5" width="1214.0" height="30"/></clipPath><g clip-path="url(#ct)">
<text x="58.5" y="950" font-size="12" fill="#131722" font-weight="bold" text-anchor="middle">16</text>
<text x="202.5" y="950" font-size="12" fill="#131722" font-weight="bold" text-anchor="middle">17</text>
<text x="346.5" y="950" font-size="12" fill="#131722" font-weight="bold" text-anchor="middle">20</text>
<text x="490.5" y="950" font-size="12" fill="#131722" font-weight="bold" text-anchor="middle">21</text>
<text x="634.5" y="950" font-size="12" fill="#131722" font-weight="bold" text-anchor="middle">22</text>
<text x="778.5" y="950" font-size="12" fill="#131722" font-weight="bold" text-anchor="middle">23</text>
<text x="922.5" y="950" font-size="12" fill="#131722" font-weight="bold" text-anchor="middle">24</text>
<text x="1066.5" y="950" font-size="12" fill="#131722" font-weight="bold" text-anchor="middle">27</text>
<text x="1210.5" y="950" font-size="12" fill="#131722" font-weight="bold" text-anchor="middle">28</text>
</g>
<g stroke="#131722" stroke-width="1.15" fill="none" stroke-linecap="butt"><circle cx="1247.5" cy="946.4" r="5"/>
<line x1="1253.00" y1="946.40" x2="1255.00" y2="946.40"/>
<line x1="1251.39" y1="950.29" x2="1252.80" y2="951.70"/>
<line x1="1247.50" y1="951.90" x2="1247.50" y2="953.90"/>
<line x1="1243.61" y1="950.29" x2="1242.20" y2="951.70"/>
<line x1="1242.00" y1="946.40" x2="1240.00" y2="946.40"/>
<line x1="1243.61" y1="942.51" x2="1242.20" y2="941.10"/>
<line x1="1247.50" y1="940.90" x2="1247.50" y2="938.90"/>
<line x1="1251.39" y1="942.51" x2="1252.80" y2="941.10"/>
</g>
<rect x="6" y="28" width="217" height="24" fill="#fff" fill-opacity="0.65"/>
<rect x="6" y="52" width="184" height="24" fill="#fff" fill-opacity="0.65"/>
<rect x="6" y="76" width="184" height="24" fill="#fff" fill-opacity="0.65"/>
<rect x="6" y="628" width="299" height="23" fill="#fff" fill-opacity="0.65"/>
<text x="10.2" y="20" font-size="13" fill="#000" font-weight="bold" text-anchor="start" textLength="149" lengthAdjust="spacingAndGlyphs">USDCAD 1h - 1uptick.com</text>
<text x="9.5" y="45" font-size="13" fill="#131722" font-weight="normal" text-anchor="start" textLength="13.5" lengthAdjust="spacingAndGlyphs" stroke="#131722" stroke-width="0.3">BB</text>
<text x="28" y="45" font-size="13" fill="#5d606b" font-weight="normal" text-anchor="start" textLength="24.5" lengthAdjust="spacingAndGlyphs" stroke="#5d606b" stroke-width="0.3">20 2</text>
<text x="67.5" y="45" font-size="13" fill="#2196f3" font-weight="normal" text-anchor="start" textLength="45.5" lengthAdjust="spacingAndGlyphs" stroke="#2196f3" stroke-width="0.3">1.36887</text>
<text x="120.75" y="45" font-size="13" fill="#2196f3" font-weight="normal" text-anchor="start" textLength="45.5" lengthAdjust="spacingAndGlyphs" stroke="#2196f3" stroke-width="0.3">1.37058</text>
<text x="173.25" y="45" font-size="13" fill="#2196f3" font-weight="normal" text-anchor="start" textLength="46" lengthAdjust="spacingAndGlyphs" stroke="#2196f3" stroke-width="0.3">1.36717</text>
<text x="9.5" y="69" font-size="13" fill="#131722" font-weight="normal" text-anchor="start" textLength="16" lengthAdjust="spacingAndGlyphs" stroke="#131722" stroke-width="0.3">MA</text>
<text x="30.5" y="69" font-size="13" fill="#5d606b" font-weight="normal" text-anchor="start" textLength="94" lengthAdjust="spacingAndGlyphs" stroke="#5d606b" stroke-width="0.3">10 close 0 SMA 9</text>
<text x="139.5" y="69" font-size="13" fill="#f5b642" font-weight="normal" text-anchor="start" textLength="46" lengthAdjust="spacingAndGlyphs" stroke="#f5b642" stroke-width="0.3">1.36908</text>
<text x="9.5" y="93" font-size="13" fill="#131722" font-weight="normal" text-anchor="start" textLength="16" lengthAdjust="spacingAndGlyphs" stroke="#131722" stroke-width="0.3">MA</text>
<text x="30.5" y="93" font-size="13" fill="#5d606b" font-weight="normal" text-anchor="start" textLength="94" lengthAdjust="spacingAndGlyphs" stroke="#5d606b" stroke-width="0.3">50 close 0 SMA 9</text>
<text x="139.5" y="93" font-size="13" fill="#e07a14" font-weight="normal" text-anchor="start" textLength="46" lengthAdjust="spacingAndGlyphs" stroke="#e07a14" stroke-width="0.3">1.37345</text>
<text x="9.2" y="643" font-size="13" fill="#131722" font-weight="normal" text-anchor="start" textLength="32.8" lengthAdjust="spacingAndGlyphs" stroke="#131722" stroke-width="0.3">MACD</text>
<text x="46.5" y="643" font-size="13" fill="#5d606b" font-weight="normal" text-anchor="start" textLength="75" lengthAdjust="spacingAndGlyphs" stroke="#5d606b" stroke-width="0.3">12 26 close 9</text>
<text x="136" y="643" font-size="13" fill="#26a69a" font-weight="normal" text-anchor="start" textLength="46" lengthAdjust="spacingAndGlyphs" stroke="#26a69a" stroke-width="0.3">0.00053</text>
<text x="189.5" y="643" font-size="13" fill="#2196f3" font-weight="normal" text-anchor="start" textLength="53" lengthAdjust="spacingAndGlyphs" stroke="#2196f3" stroke-width="0.3">−0.00100</text>
<text x="249.5" y="643" font-size="13" fill="#ff3d78" font-weight="normal" text-anchor="start" textLength="53" lengthAdjust="spacingAndGlyphs" stroke="#ff3d78" stroke-width="0.3">−0.00153</text>
<rect x="9.5" y="102.5" width="28" height="20" rx="3" fill="#fff" fill-opacity="0.82" stroke="#dcdde3"/>
<path d="M19.3,114.5 L23.3,110.7 L27.3,114.5" fill="none" stroke="#131722" stroke-width="1.4"/>
<circle cx="23.6" cy="909.9" r="16.5" fill="#fff" stroke="#e7e7ea" stroke-width="1"/>
<path d="M13,905.1 H21.9 V915.75 H18.1 V908.9 H13 Z" fill="#131722"/>
<circle cx="25" cy="907" r="1.9" fill="#131722"/>
<path d="M29.4,905.1 H34.25 L29.9,915.75 H25 Z" fill="#131722"/>
</svg>
</body></html>
